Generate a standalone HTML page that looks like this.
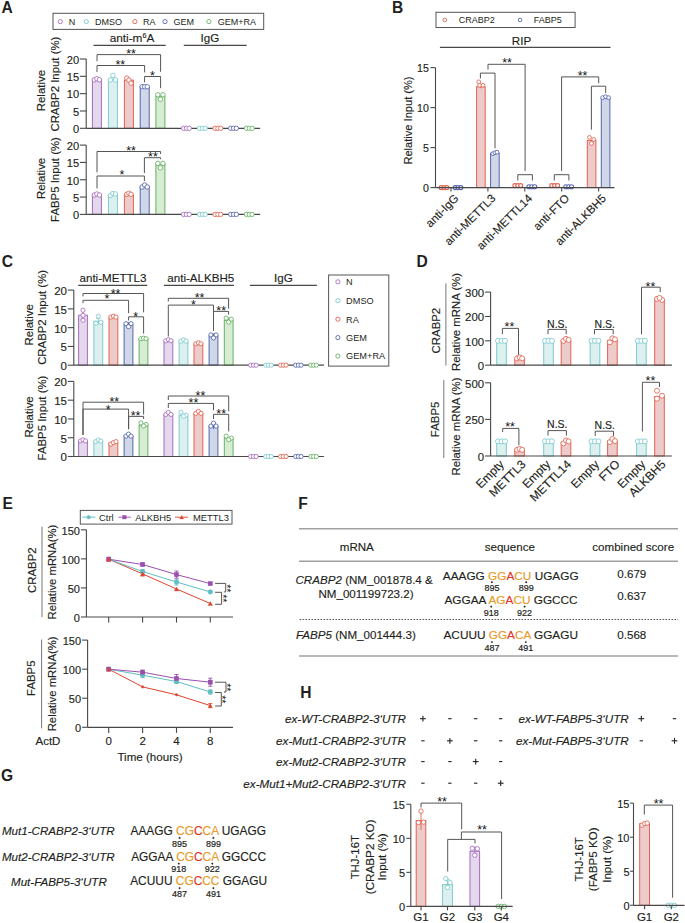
<!DOCTYPE html>
<html><head><meta charset="utf-8"><style>
html,body{margin:0;padding:0;background:#fff;}
svg{display:block;font-family:"Liberation Sans",sans-serif;}
</style></head><body>
<svg width="685" height="923" viewBox="0 0 685 923">
<rect width="685" height="923" fill="#fff"/>
<text x="1.5" y="12.9" font-size="15.6" font-weight="bold" fill="#231f20">A</text>
<rect x="53" y="13.3" width="210.7" height="16.1" stroke="#555" stroke-width="1" fill="none"/>
<circle cx="60.3" cy="21.6" r="2.1" stroke="#a86bbd" stroke-width="0.9" fill="none"/>
<text x="68.7" y="24.8" font-size="9" fill="#231f20">N</text>
<circle cx="86.3" cy="21.6" r="2.1" stroke="#7ccacd" stroke-width="0.9" fill="none"/>
<text x="94.9" y="24.8" font-size="9" fill="#231f20">DMSO</text>
<circle cx="134.9" cy="21.6" r="2.1" stroke="#e1624f" stroke-width="0.9" fill="none"/>
<text x="142.9" y="24.8" font-size="9" fill="#231f20">RA</text>
<circle cx="165" cy="21.6" r="2.1" stroke="#5565ad" stroke-width="0.9" fill="none"/>
<text x="173.5" y="24.8" font-size="9" fill="#231f20">GEM</text>
<circle cx="208.9" cy="21.6" r="2.1" stroke="#66b163" stroke-width="0.9" fill="none"/>
<text x="217.7" y="24.8" font-size="9" fill="#231f20">GEM+RA</text>
<text x="132" y="41.9" font-size="11.8" text-anchor="middle" fill="#231f20" stroke="#231f20" stroke-width="0.15">anti-m<tspan font-size="7.2" dy="-4.2">6</tspan><tspan dy="4.2">A</tspan></text>
<line x1="93.5" y1="45.4" x2="165.7" y2="45.4" stroke="#484848" stroke-width="1.1"/>
<text x="209.9" y="41.9" font-size="11.6" text-anchor="middle" fill="#231f20" stroke="#231f20" stroke-width="0.15">IgG</text>
<line x1="183.8" y1="45.4" x2="246.7" y2="45.4" stroke="#484848" stroke-width="1.1"/>
<line x1="86.2" y1="59" x2="86.2" y2="128.3" stroke="#484848" stroke-width="1.1"/>
<line x1="79.9" y1="128.3" x2="86.2" y2="128.3" stroke="#484848" stroke-width="1.1"/>
<text x="79.2" y="133.1" font-size="11.1" text-anchor="end" fill="#231f20" stroke="#231f20" stroke-width="0.15">0</text>
<line x1="79.9" y1="110.98" x2="86.2" y2="110.98" stroke="#484848" stroke-width="1.1"/>
<text x="79.2" y="115.77" font-size="11.1" text-anchor="end" fill="#231f20" stroke="#231f20" stroke-width="0.15">5</text>
<line x1="79.9" y1="93.65" x2="86.2" y2="93.65" stroke="#484848" stroke-width="1.1"/>
<text x="79.2" y="98.45" font-size="11.1" text-anchor="end" fill="#231f20" stroke="#231f20" stroke-width="0.15">10</text>
<line x1="79.9" y1="76.33" x2="86.2" y2="76.33" stroke="#484848" stroke-width="1.1"/>
<text x="79.2" y="81.12" font-size="11.1" text-anchor="end" fill="#231f20" stroke="#231f20" stroke-width="0.15">15</text>
<line x1="79.9" y1="59" x2="86.2" y2="59" stroke="#484848" stroke-width="1.1"/>
<text x="79.2" y="63.8" font-size="11.1" text-anchor="end" fill="#231f20" stroke="#231f20" stroke-width="0.15">20</text>
<rect x="92.4" y="79.79" width="9" height="48.51" stroke="#a86bbd" stroke-width="1" fill="#e4d9ec"/>
<circle cx="94.35" cy="79.79" r="2.25" stroke="#a86bbd" stroke-width="0.85" fill="#fff"/>
<circle cx="96.9" cy="78.79" r="2.25" stroke="#a86bbd" stroke-width="0.85" fill="#fff"/>
<circle cx="99.45" cy="79.79" r="2.25" stroke="#a86bbd" stroke-width="0.85" fill="#fff"/>
<rect x="108.4" y="79.44" width="9" height="48.86" stroke="#7ccacd" stroke-width="1" fill="#ddf0f0"/>
<circle cx="110.35" cy="79.94" r="2.25" stroke="#7ccacd" stroke-width="0.85" fill="#fff"/>
<circle cx="112.9" cy="75.44" r="2.25" stroke="#7ccacd" stroke-width="0.85" fill="#fff"/>
<circle cx="115.45" cy="79.94" r="2.25" stroke="#7ccacd" stroke-width="0.85" fill="#fff"/>
<rect x="124.4" y="80.14" width="9" height="48.16" stroke="#e1624f" stroke-width="1" fill="#eecbcb"/>
<circle cx="126.78" cy="78.14" r="2.25" stroke="#e1624f" stroke-width="0.85" fill="#fff"/>
<circle cx="128.9" cy="80.14" r="2.25" stroke="#e1624f" stroke-width="0.85" fill="#fff"/>
<circle cx="131.03" cy="83.14" r="2.25" stroke="#e1624f" stroke-width="0.85" fill="#fff"/>
<rect x="140.2" y="86.72" width="9" height="41.58" stroke="#5565ad" stroke-width="1" fill="#cfd7e8"/>
<circle cx="142.15" cy="86.72" r="2.25" stroke="#5565ad" stroke-width="0.85" fill="#fff"/>
<circle cx="144.7" cy="86.72" r="2.25" stroke="#5565ad" stroke-width="0.85" fill="#fff"/>
<circle cx="147.25" cy="86.72" r="2.25" stroke="#5565ad" stroke-width="0.85" fill="#fff"/>
<rect x="155.9" y="96.25" width="9" height="32.05" stroke="#66b163" stroke-width="1" fill="#d6ecd3"/>
<circle cx="157.85" cy="94.75" r="2.25" stroke="#66b163" stroke-width="0.85" fill="#fff"/>
<circle cx="162.95" cy="94.75" r="2.25" stroke="#66b163" stroke-width="0.85" fill="#fff"/>
<circle cx="160.4" cy="99.25" r="2.25" stroke="#66b163" stroke-width="0.85" fill="#fff"/>
<line x1="86.2" y1="128.3" x2="260.1" y2="128.3" stroke="#484848" stroke-width="1.2"/>
<circle cx="183.6" cy="128.3" r="2.2" stroke="#a86bbd" stroke-width="0.85" fill="#fff"/>
<circle cx="186.4" cy="128.3" r="2.2" stroke="#a86bbd" stroke-width="0.85" fill="#fff"/>
<circle cx="189.2" cy="128.3" r="2.2" stroke="#a86bbd" stroke-width="0.85" fill="#fff"/>
<circle cx="199.6" cy="128.3" r="2.2" stroke="#7ccacd" stroke-width="0.85" fill="#fff"/>
<circle cx="202.4" cy="128.3" r="2.2" stroke="#7ccacd" stroke-width="0.85" fill="#fff"/>
<circle cx="205.2" cy="128.3" r="2.2" stroke="#7ccacd" stroke-width="0.85" fill="#fff"/>
<circle cx="215.1" cy="128.3" r="2.2" stroke="#e1624f" stroke-width="0.85" fill="#fff"/>
<circle cx="217.9" cy="128.3" r="2.2" stroke="#e1624f" stroke-width="0.85" fill="#fff"/>
<circle cx="220.7" cy="128.3" r="2.2" stroke="#e1624f" stroke-width="0.85" fill="#fff"/>
<circle cx="230.7" cy="128.3" r="2.2" stroke="#5565ad" stroke-width="0.85" fill="#fff"/>
<circle cx="233.5" cy="128.3" r="2.2" stroke="#5565ad" stroke-width="0.85" fill="#fff"/>
<circle cx="236.3" cy="128.3" r="2.2" stroke="#5565ad" stroke-width="0.85" fill="#fff"/>
<circle cx="246.5" cy="128.3" r="2.2" stroke="#66b163" stroke-width="0.85" fill="#fff"/>
<circle cx="249.3" cy="128.3" r="2.2" stroke="#66b163" stroke-width="0.85" fill="#fff"/>
<circle cx="252.1" cy="128.3" r="2.2" stroke="#66b163" stroke-width="0.85" fill="#fff"/>
<path d="M97 61.2V54.6H160.6V71.8" stroke="#555555" stroke-width="1" fill="none"/>
<text x="131" y="57.95" font-size="12.5" text-anchor="middle" fill="#111">**</text>
<path d="M97 72.1V65.5H144.6V72.4" stroke="#555555" stroke-width="1" fill="none"/>
<text x="120.3" y="69.15" font-size="12.5" text-anchor="middle" fill="#111">**</text>
<path d="M144.6 82.3V76.5H160.6V88.2" stroke="#555555" stroke-width="1" fill="none"/>
<text x="152.4" y="80.35" font-size="12.5" text-anchor="middle" fill="#111">*</text>
<text x="44.51" y="90.6" font-size="11.4" text-anchor="middle" transform="rotate(-90 44.51 90.6)" fill="#231f20" stroke="#231f20" stroke-width="0.15">Relative</text>
<text x="58.61" y="84.1" font-size="11.4" text-anchor="middle" transform="rotate(-90 58.61 84.1)" fill="#231f20" stroke="#231f20" stroke-width="0.15">CRABP2 Input (%)</text>
<line x1="86.2" y1="145.1" x2="86.2" y2="214.4" stroke="#484848" stroke-width="1.1"/>
<line x1="79.9" y1="214.4" x2="86.2" y2="214.4" stroke="#484848" stroke-width="1.1"/>
<text x="79.2" y="219.2" font-size="11.1" text-anchor="end" fill="#231f20" stroke="#231f20" stroke-width="0.15">0</text>
<line x1="79.9" y1="197.08" x2="86.2" y2="197.08" stroke="#484848" stroke-width="1.1"/>
<text x="79.2" y="201.87" font-size="11.1" text-anchor="end" fill="#231f20" stroke="#231f20" stroke-width="0.15">5</text>
<line x1="79.9" y1="179.75" x2="86.2" y2="179.75" stroke="#484848" stroke-width="1.1"/>
<text x="79.2" y="184.55" font-size="11.1" text-anchor="end" fill="#231f20" stroke="#231f20" stroke-width="0.15">10</text>
<line x1="79.9" y1="162.43" x2="86.2" y2="162.43" stroke="#484848" stroke-width="1.1"/>
<text x="79.2" y="167.22" font-size="11.1" text-anchor="end" fill="#231f20" stroke="#231f20" stroke-width="0.15">15</text>
<line x1="79.9" y1="145.1" x2="86.2" y2="145.1" stroke="#484848" stroke-width="1.1"/>
<text x="79.2" y="149.9" font-size="11.1" text-anchor="end" fill="#231f20" stroke="#231f20" stroke-width="0.15">20</text>
<rect x="92.4" y="195" width="9" height="19.4" stroke="#a86bbd" stroke-width="1" fill="#e4d9ec"/>
<circle cx="94.35" cy="195" r="2.25" stroke="#a86bbd" stroke-width="0.85" fill="#fff"/>
<circle cx="96.9" cy="194" r="2.25" stroke="#a86bbd" stroke-width="0.85" fill="#fff"/>
<circle cx="99.45" cy="195" r="2.25" stroke="#a86bbd" stroke-width="0.85" fill="#fff"/>
<rect x="108.4" y="195" width="9" height="19.4" stroke="#7ccacd" stroke-width="1" fill="#ddf0f0"/>
<circle cx="110.35" cy="195.5" r="2.25" stroke="#7ccacd" stroke-width="0.85" fill="#fff"/>
<circle cx="112.9" cy="193.5" r="2.25" stroke="#7ccacd" stroke-width="0.85" fill="#fff"/>
<circle cx="115.45" cy="194" r="2.25" stroke="#7ccacd" stroke-width="0.85" fill="#fff"/>
<rect x="124.4" y="194.3" width="9" height="20.1" stroke="#e1624f" stroke-width="1" fill="#eecbcb"/>
<circle cx="126.78" cy="194.3" r="2.25" stroke="#e1624f" stroke-width="0.85" fill="#fff"/>
<circle cx="128.9" cy="193.3" r="2.25" stroke="#e1624f" stroke-width="0.85" fill="#fff"/>
<circle cx="131.03" cy="194.3" r="2.25" stroke="#e1624f" stroke-width="0.85" fill="#fff"/>
<rect x="140.2" y="187.03" width="9" height="27.37" stroke="#5565ad" stroke-width="1" fill="#cfd7e8"/>
<circle cx="142.15" cy="187.03" r="2.25" stroke="#5565ad" stroke-width="0.85" fill="#fff"/>
<circle cx="144.7" cy="185.03" r="2.25" stroke="#5565ad" stroke-width="0.85" fill="#fff"/>
<circle cx="147.25" cy="187.03" r="2.25" stroke="#5565ad" stroke-width="0.85" fill="#fff"/>
<rect x="155.9" y="164.85" width="9" height="49.55" stroke="#66b163" stroke-width="1" fill="#d6ecd3"/>
<circle cx="157.85" cy="163.35" r="2.25" stroke="#66b163" stroke-width="0.85" fill="#fff"/>
<circle cx="162.95" cy="163.35" r="2.25" stroke="#66b163" stroke-width="0.85" fill="#fff"/>
<circle cx="160.4" cy="167.85" r="2.25" stroke="#66b163" stroke-width="0.85" fill="#fff"/>
<line x1="86.2" y1="214.4" x2="260.1" y2="214.4" stroke="#484848" stroke-width="1.2"/>
<circle cx="183.6" cy="214.4" r="2.2" stroke="#a86bbd" stroke-width="0.85" fill="#fff"/>
<circle cx="186.4" cy="214.4" r="2.2" stroke="#a86bbd" stroke-width="0.85" fill="#fff"/>
<circle cx="189.2" cy="214.4" r="2.2" stroke="#a86bbd" stroke-width="0.85" fill="#fff"/>
<circle cx="199.6" cy="214.4" r="2.2" stroke="#7ccacd" stroke-width="0.85" fill="#fff"/>
<circle cx="202.4" cy="214.4" r="2.2" stroke="#7ccacd" stroke-width="0.85" fill="#fff"/>
<circle cx="205.2" cy="214.4" r="2.2" stroke="#7ccacd" stroke-width="0.85" fill="#fff"/>
<circle cx="215.1" cy="214.4" r="2.2" stroke="#e1624f" stroke-width="0.85" fill="#fff"/>
<circle cx="217.9" cy="214.4" r="2.2" stroke="#e1624f" stroke-width="0.85" fill="#fff"/>
<circle cx="220.7" cy="214.4" r="2.2" stroke="#e1624f" stroke-width="0.85" fill="#fff"/>
<circle cx="230.7" cy="214.4" r="2.2" stroke="#5565ad" stroke-width="0.85" fill="#fff"/>
<circle cx="233.5" cy="214.4" r="2.2" stroke="#5565ad" stroke-width="0.85" fill="#fff"/>
<circle cx="236.3" cy="214.4" r="2.2" stroke="#5565ad" stroke-width="0.85" fill="#fff"/>
<circle cx="246.5" cy="214.4" r="2.2" stroke="#66b163" stroke-width="0.85" fill="#fff"/>
<circle cx="249.3" cy="214.4" r="2.2" stroke="#66b163" stroke-width="0.85" fill="#fff"/>
<circle cx="252.1" cy="214.4" r="2.2" stroke="#66b163" stroke-width="0.85" fill="#fff"/>
<path d="M97 172.3V151.5H160.6V154" stroke="#555555" stroke-width="1" fill="none"/>
<text x="131" y="154.75" font-size="12.5" text-anchor="middle" fill="#111">**</text>
<path d="M144.4 173V157.7H160.6V159.2" stroke="#555555" stroke-width="1" fill="none"/>
<text x="152.9" y="160.95" font-size="12.5" text-anchor="middle" fill="#111">**</text>
<path d="M97 188.4V176H144.4V181" stroke="#555555" stroke-width="1" fill="none"/>
<text x="122" y="178.95" font-size="12.5" text-anchor="middle" fill="#111">*</text>
<text x="44.51" y="178.4" font-size="11.4" text-anchor="middle" transform="rotate(-90 44.51 178.4)" fill="#231f20" stroke="#231f20" stroke-width="0.15">Relative</text>
<text x="58.61" y="179.5" font-size="11.4" text-anchor="middle" transform="rotate(-90 58.61 179.5)" fill="#231f20" stroke="#231f20" stroke-width="0.15">FABP5 Input (%)</text>
<text x="391.9" y="12.6" font-size="15.6" font-weight="bold" fill="#231f20">B</text>
<rect x="436" y="12.3" width="139.1" height="15.2" stroke="#555" stroke-width="1" fill="none"/>
<circle cx="444.8" cy="19.9" r="1.8" stroke="#e1624f" stroke-width="0.9" fill="none"/>
<text x="458.8" y="23.3" font-size="9" fill="#231f20">CRABP2</text>
<circle cx="520.1" cy="19.9" r="1.8" stroke="#5565ad" stroke-width="0.9" fill="none"/>
<text x="533.8" y="23.3" font-size="9" fill="#231f20">FABP5</text>
<text x="521.5" y="44.7" font-size="11.6" text-anchor="middle" fill="#231f20" stroke="#231f20" stroke-width="0.15">RIP</text>
<line x1="439.9" y1="47.4" x2="610.5" y2="47.4" stroke="#484848" stroke-width="1.1"/>
<line x1="435.5" y1="67.6" x2="435.5" y2="187.6" stroke="#484848" stroke-width="1.1"/>
<line x1="430.5" y1="187.6" x2="435.5" y2="187.6" stroke="#484848" stroke-width="1.1"/>
<text x="428.9" y="192.22" font-size="10.6" text-anchor="end" fill="#231f20" stroke="#231f20" stroke-width="0.15">0</text>
<line x1="430.5" y1="147.6" x2="435.5" y2="147.6" stroke="#484848" stroke-width="1.1"/>
<text x="428.9" y="152.22" font-size="10.6" text-anchor="end" fill="#231f20" stroke="#231f20" stroke-width="0.15">5</text>
<line x1="430.5" y1="107.6" x2="435.5" y2="107.6" stroke="#484848" stroke-width="1.1"/>
<text x="428.9" y="112.22" font-size="10.6" text-anchor="end" fill="#231f20" stroke="#231f20" stroke-width="0.15">10</text>
<line x1="430.5" y1="67.6" x2="435.5" y2="67.6" stroke="#484848" stroke-width="1.1"/>
<text x="428.9" y="72.22" font-size="10.6" text-anchor="end" fill="#231f20" stroke="#231f20" stroke-width="0.15">15</text>
<text x="411.82" y="120.5" font-size="11.1" text-anchor="middle" transform="rotate(-90 411.82 120.5)" fill="#231f20" stroke="#231f20" stroke-width="0.15">Relative Input (%)</text>
<circle cx="441.1" cy="187.6" r="2" stroke="#e1624f" stroke-width="1.1" fill="#fff"/>
<circle cx="444" cy="187.6" r="2" stroke="#e1624f" stroke-width="1.1" fill="#fff"/>
<circle cx="446.9" cy="187.6" r="2" stroke="#e1624f" stroke-width="1.1" fill="#fff"/>
<circle cx="455.1" cy="187.6" r="2" stroke="#5565ad" stroke-width="1.1" fill="#fff"/>
<circle cx="458" cy="187.6" r="2" stroke="#5565ad" stroke-width="1.1" fill="#fff"/>
<circle cx="460.9" cy="187.6" r="2" stroke="#5565ad" stroke-width="1.1" fill="#fff"/>
<circle cx="514.9" cy="185.6" r="2" stroke="#e1624f" stroke-width="1.1" fill="#fff"/>
<circle cx="517.8" cy="185.6" r="2" stroke="#e1624f" stroke-width="1.1" fill="#fff"/>
<circle cx="520.7" cy="185.6" r="2" stroke="#e1624f" stroke-width="1.1" fill="#fff"/>
<circle cx="528.9" cy="186.8" r="2" stroke="#5565ad" stroke-width="1.1" fill="#fff"/>
<circle cx="531.8" cy="186.8" r="2" stroke="#5565ad" stroke-width="1.1" fill="#fff"/>
<circle cx="534.7" cy="186.8" r="2" stroke="#5565ad" stroke-width="1.1" fill="#fff"/>
<circle cx="551.8" cy="185.6" r="2" stroke="#e1624f" stroke-width="1.1" fill="#fff"/>
<circle cx="554.7" cy="185.6" r="2" stroke="#e1624f" stroke-width="1.1" fill="#fff"/>
<circle cx="557.6" cy="185.6" r="2" stroke="#e1624f" stroke-width="1.1" fill="#fff"/>
<circle cx="565.8" cy="186.8" r="2" stroke="#5565ad" stroke-width="1.1" fill="#fff"/>
<circle cx="568.7" cy="186.8" r="2" stroke="#5565ad" stroke-width="1.1" fill="#fff"/>
<circle cx="571.6" cy="186.8" r="2" stroke="#5565ad" stroke-width="1.1" fill="#fff"/>
<rect x="476.6" y="86.8" width="8.6" height="100.8" stroke="#e1624f" stroke-width="1" fill="#eecbcb"/>
<line x1="480.9" y1="85.3" x2="480.9" y2="88.3" stroke="#e1624f" stroke-width="0.9"/>
<line x1="478.9" y1="85.3" x2="482.9" y2="85.3" stroke="#e1624f" stroke-width="0.9"/>
<circle cx="478.77" cy="81.8" r="1.9" stroke="#e1624f" stroke-width="0.85" fill="#fff"/>
<circle cx="479.62" cy="85.3" r="1.9" stroke="#e1624f" stroke-width="0.85" fill="#fff"/>
<circle cx="483.02" cy="85.3" r="1.9" stroke="#e1624f" stroke-width="0.85" fill="#fff"/>
<rect x="490.6" y="153.2" width="8.6" height="34.4" stroke="#5565ad" stroke-width="1" fill="#cfd7e8"/>
<circle cx="492.77" cy="153.7" r="1.9" stroke="#5565ad" stroke-width="0.85" fill="#fff"/>
<circle cx="494.9" cy="152.7" r="1.9" stroke="#5565ad" stroke-width="0.85" fill="#fff"/>
<circle cx="497.02" cy="152.2" r="1.9" stroke="#5565ad" stroke-width="0.85" fill="#fff"/>
<rect x="587.3" y="140.4" width="8.6" height="47.2" stroke="#e1624f" stroke-width="1" fill="#eecbcb"/>
<circle cx="589.48" cy="137.4" r="1.9" stroke="#e1624f" stroke-width="0.85" fill="#fff"/>
<circle cx="593.73" cy="139.4" r="1.9" stroke="#e1624f" stroke-width="0.85" fill="#fff"/>
<circle cx="591.6" cy="143.4" r="1.9" stroke="#e1624f" stroke-width="0.85" fill="#fff"/>
<rect x="601.3" y="98.64" width="8.6" height="88.96" stroke="#5565ad" stroke-width="1" fill="#cfd7e8"/>
<circle cx="602.62" cy="97.64" r="1.9" stroke="#5565ad" stroke-width="0.85" fill="#fff"/>
<circle cx="605.6" cy="96.64" r="1.9" stroke="#5565ad" stroke-width="0.85" fill="#fff"/>
<circle cx="608.58" cy="97.64" r="1.9" stroke="#5565ad" stroke-width="0.85" fill="#fff"/>
<line x1="435.5" y1="187.6" x2="614.5" y2="187.6" stroke="#484848" stroke-width="1.2"/>
<line x1="451" y1="187.6" x2="451" y2="191.6" stroke="#484848" stroke-width="1.1"/>
<line x1="487.9" y1="187.6" x2="487.9" y2="191.6" stroke="#484848" stroke-width="1.1"/>
<line x1="524.8" y1="187.6" x2="524.8" y2="191.6" stroke="#484848" stroke-width="1.1"/>
<line x1="561.7" y1="187.6" x2="561.7" y2="191.6" stroke="#484848" stroke-width="1.1"/>
<line x1="598.6" y1="187.6" x2="598.6" y2="191.6" stroke="#484848" stroke-width="1.1"/>
<path d="M480.4 78.4V73.1H495V148.4" stroke="#555555" stroke-width="1" fill="none"/>
<path d="M488 69.6V64.3H525.1V171" stroke="#555555" stroke-width="1" fill="none"/>
<text x="507" y="66.85" font-size="12.5" text-anchor="middle" fill="#111">**</text>
<path d="M517.8 180.5V174.7H532.4V180.5" stroke="#555555" stroke-width="1" fill="none"/>
<path d="M554.3 180.5V174.7H568.9V180.5" stroke="#555555" stroke-width="1" fill="none"/>
<path d="M561.6 171V76.9H598.7V83.3" stroke="#555555" stroke-width="1" fill="none"/>
<text x="582.6" y="79.65" font-size="12.5" text-anchor="middle" fill="#111">**</text>
<path d="M591.4 129.6V86.2H605.7V93" stroke="#555555" stroke-width="1" fill="none"/>
<text x="459.3" y="199" font-size="11.5" text-anchor="end" transform="rotate(-45 459.3 199)" fill="#231f20" stroke="#231f20" stroke-width="0.15">anti-IgG</text>
<text x="496.2" y="199" font-size="11.5" text-anchor="end" transform="rotate(-45 496.2 199)" fill="#231f20" stroke="#231f20" stroke-width="0.15">anti-METTL3</text>
<text x="533.1" y="199" font-size="11.5" text-anchor="end" transform="rotate(-45 533.1 199)" fill="#231f20" stroke="#231f20" stroke-width="0.15">anti-METTL14</text>
<text x="570" y="199" font-size="11.5" text-anchor="end" transform="rotate(-45 570 199)" fill="#231f20" stroke="#231f20" stroke-width="0.15">anti-FTO</text>
<text x="606.9" y="199" font-size="11.5" text-anchor="end" transform="rotate(-45 606.9 199)" fill="#231f20" stroke="#231f20" stroke-width="0.15">anti-ALKBH5</text>
<text x="1.75" y="267.1" font-size="15.6" font-weight="bold" fill="#231f20">C</text>
<text x="113" y="281.5" font-size="11.6" text-anchor="middle" fill="#231f20" stroke="#231f20" stroke-width="0.15">anti-METTL3</text>
<line x1="78.2" y1="285.4" x2="147.3" y2="285.4" stroke="#484848" stroke-width="1.1"/>
<text x="200.8" y="281.5" font-size="11.6" text-anchor="middle" fill="#231f20" stroke="#231f20" stroke-width="0.15">anti-ALKBH5</text>
<line x1="163.9" y1="285.4" x2="233.9" y2="285.4" stroke="#484848" stroke-width="1.1"/>
<text x="283.4" y="281.5" font-size="11.6" text-anchor="middle" fill="#231f20" stroke="#231f20" stroke-width="0.15">IgG</text>
<line x1="249.9" y1="285.4" x2="316.9" y2="285.4" stroke="#484848" stroke-width="1.1"/>
<rect x="328.6" y="275" width="60.2" height="91.1" stroke="#555" stroke-width="1" fill="none"/>
<circle cx="337.9" cy="281.8" r="2.1" stroke="#a86bbd" stroke-width="0.9" fill="none"/>
<text x="346.1" y="285.1" font-size="9.2" fill="#231f20">N</text>
<circle cx="337.9" cy="300.7" r="2.1" stroke="#7ccacd" stroke-width="0.9" fill="none"/>
<text x="346.1" y="304" font-size="9.2" fill="#231f20">DMSO</text>
<circle cx="337.9" cy="319.2" r="2.1" stroke="#e1624f" stroke-width="0.9" fill="none"/>
<text x="346.1" y="322.5" font-size="9.2" fill="#231f20">RA</text>
<circle cx="337.9" cy="337.6" r="2.1" stroke="#5565ad" stroke-width="0.9" fill="none"/>
<text x="346.1" y="340.9" font-size="9.2" fill="#231f20">GEM</text>
<circle cx="337.9" cy="356.1" r="2.1" stroke="#66b163" stroke-width="0.9" fill="none"/>
<text x="346.1" y="359.4" font-size="9.2" fill="#231f20">GEM+RA</text>
<line x1="73.8" y1="290.1" x2="73.8" y2="365.2" stroke="#484848" stroke-width="1.1"/>
<line x1="67.8" y1="365.2" x2="73.8" y2="365.2" stroke="#484848" stroke-width="1.1"/>
<text x="67" y="370.14" font-size="11.5" text-anchor="end" fill="#231f20" stroke="#231f20" stroke-width="0.15">0</text>
<line x1="67.8" y1="346.43" x2="73.8" y2="346.43" stroke="#484848" stroke-width="1.1"/>
<text x="67" y="351.37" font-size="11.5" text-anchor="end" fill="#231f20" stroke="#231f20" stroke-width="0.15">5</text>
<line x1="67.8" y1="327.65" x2="73.8" y2="327.65" stroke="#484848" stroke-width="1.1"/>
<text x="67" y="332.59" font-size="11.5" text-anchor="end" fill="#231f20" stroke="#231f20" stroke-width="0.15">10</text>
<line x1="67.8" y1="308.88" x2="73.8" y2="308.88" stroke="#484848" stroke-width="1.1"/>
<text x="67" y="313.81" font-size="11.5" text-anchor="end" fill="#231f20" stroke="#231f20" stroke-width="0.15">15</text>
<line x1="67.8" y1="290.1" x2="73.8" y2="290.1" stroke="#484848" stroke-width="1.1"/>
<text x="67" y="295.04" font-size="11.5" text-anchor="end" fill="#231f20" stroke="#231f20" stroke-width="0.15">20</text>
<rect x="78.6" y="315.26" width="8.8" height="49.94" stroke="#a86bbd" stroke-width="1" fill="#e4d9ec"/>
<line x1="83" y1="310.26" x2="83" y2="320.26" stroke="#a86bbd" stroke-width="0.9"/>
<line x1="81" y1="310.26" x2="85" y2="310.26" stroke="#a86bbd" stroke-width="0.9"/>
<circle cx="83" cy="320.26" r="2.1" stroke="#a86bbd" stroke-width="0.85" fill="#fff"/>
<circle cx="83" cy="310.26" r="2.1" stroke="#a86bbd" stroke-width="0.85" fill="#fff"/>
<circle cx="83" cy="315.26" r="2.1" stroke="#a86bbd" stroke-width="0.85" fill="#fff"/>
<rect x="164" y="340.79" width="8.8" height="24.41" stroke="#a86bbd" stroke-width="1" fill="#e4d9ec"/>
<circle cx="165.85" cy="340.79" r="2.1" stroke="#a86bbd" stroke-width="0.85" fill="#fff"/>
<circle cx="168.4" cy="339.79" r="2.1" stroke="#a86bbd" stroke-width="0.85" fill="#fff"/>
<circle cx="170.95" cy="340.79" r="2.1" stroke="#a86bbd" stroke-width="0.85" fill="#fff"/>
<rect x="93.9" y="321.27" width="8.8" height="43.93" stroke="#7ccacd" stroke-width="1" fill="#ddf0f0"/>
<line x1="98.3" y1="318.27" x2="98.3" y2="324.27" stroke="#7ccacd" stroke-width="0.9"/>
<line x1="96.3" y1="318.27" x2="100.3" y2="318.27" stroke="#7ccacd" stroke-width="0.9"/>
<circle cx="98.3" cy="316.27" r="2.1" stroke="#7ccacd" stroke-width="0.85" fill="#fff"/>
<circle cx="95.75" cy="323.27" r="2.1" stroke="#7ccacd" stroke-width="0.85" fill="#fff"/>
<circle cx="100.85" cy="322.27" r="2.1" stroke="#7ccacd" stroke-width="0.85" fill="#fff"/>
<rect x="179.1" y="341.17" width="8.8" height="24.03" stroke="#7ccacd" stroke-width="1" fill="#ddf0f0"/>
<circle cx="180.95" cy="341.17" r="2.1" stroke="#7ccacd" stroke-width="0.85" fill="#fff"/>
<circle cx="183.5" cy="339.67" r="2.1" stroke="#7ccacd" stroke-width="0.85" fill="#fff"/>
<circle cx="186.05" cy="341.17" r="2.1" stroke="#7ccacd" stroke-width="0.85" fill="#fff"/>
<rect x="109" y="317.14" width="8.8" height="48.06" stroke="#e1624f" stroke-width="1" fill="#eecbcb"/>
<circle cx="110.85" cy="317.14" r="2.1" stroke="#e1624f" stroke-width="0.85" fill="#fff"/>
<circle cx="113.4" cy="316.14" r="2.1" stroke="#e1624f" stroke-width="0.85" fill="#fff"/>
<circle cx="115.95" cy="317.14" r="2.1" stroke="#e1624f" stroke-width="0.85" fill="#fff"/>
<rect x="194" y="343.8" width="8.8" height="21.4" stroke="#e1624f" stroke-width="1" fill="#eecbcb"/>
<circle cx="195.85" cy="343.8" r="2.1" stroke="#e1624f" stroke-width="0.85" fill="#fff"/>
<circle cx="198.4" cy="342.8" r="2.1" stroke="#e1624f" stroke-width="0.85" fill="#fff"/>
<circle cx="200.95" cy="343.8" r="2.1" stroke="#e1624f" stroke-width="0.85" fill="#fff"/>
<rect x="124.1" y="324.65" width="8.8" height="40.55" stroke="#5565ad" stroke-width="1" fill="#cfd7e8"/>
<line x1="128.5" y1="322.65" x2="128.5" y2="326.65" stroke="#5565ad" stroke-width="0.9"/>
<line x1="126.5" y1="322.65" x2="130.5" y2="322.65" stroke="#5565ad" stroke-width="0.9"/>
<circle cx="125.95" cy="323.65" r="2.1" stroke="#5565ad" stroke-width="0.85" fill="#fff"/>
<circle cx="131.05" cy="323.65" r="2.1" stroke="#5565ad" stroke-width="0.85" fill="#fff"/>
<circle cx="128.5" cy="326.65" r="2.1" stroke="#5565ad" stroke-width="0.85" fill="#fff"/>
<rect x="209.1" y="335.91" width="8.8" height="29.29" stroke="#5565ad" stroke-width="1" fill="#cfd7e8"/>
<line x1="213.5" y1="333.91" x2="213.5" y2="337.91" stroke="#5565ad" stroke-width="0.9"/>
<line x1="211.5" y1="333.91" x2="215.5" y2="333.91" stroke="#5565ad" stroke-width="0.9"/>
<circle cx="210.95" cy="334.91" r="2.1" stroke="#5565ad" stroke-width="0.85" fill="#fff"/>
<circle cx="216.05" cy="334.91" r="2.1" stroke="#5565ad" stroke-width="0.85" fill="#fff"/>
<circle cx="213.5" cy="337.91" r="2.1" stroke="#5565ad" stroke-width="0.85" fill="#fff"/>
<rect x="139.1" y="338.69" width="8.8" height="26.51" stroke="#66b163" stroke-width="1" fill="#d6ecd3"/>
<circle cx="140.95" cy="338.69" r="2.1" stroke="#66b163" stroke-width="0.85" fill="#fff"/>
<circle cx="143.5" cy="338.19" r="2.1" stroke="#66b163" stroke-width="0.85" fill="#fff"/>
<circle cx="146.05" cy="338.69" r="2.1" stroke="#66b163" stroke-width="0.85" fill="#fff"/>
<rect x="224.3" y="320.14" width="8.8" height="45.06" stroke="#66b163" stroke-width="1" fill="#d6ecd3"/>
<line x1="228.7" y1="318.14" x2="228.7" y2="322.14" stroke="#66b163" stroke-width="0.9"/>
<line x1="226.7" y1="318.14" x2="230.7" y2="318.14" stroke="#66b163" stroke-width="0.9"/>
<circle cx="226.15" cy="318.14" r="2.1" stroke="#66b163" stroke-width="0.85" fill="#fff"/>
<circle cx="231.25" cy="319.14" r="2.1" stroke="#66b163" stroke-width="0.85" fill="#fff"/>
<circle cx="228.7" cy="322.14" r="2.1" stroke="#66b163" stroke-width="0.85" fill="#fff"/>
<line x1="73.8" y1="365.2" x2="323.9" y2="365.2" stroke="#484848" stroke-width="1.2"/>
<circle cx="250.7" cy="365.2" r="2.1" stroke="#a86bbd" stroke-width="0.85" fill="#fff"/>
<circle cx="253.4" cy="365.2" r="2.1" stroke="#a86bbd" stroke-width="0.85" fill="#fff"/>
<circle cx="256.1" cy="365.2" r="2.1" stroke="#a86bbd" stroke-width="0.85" fill="#fff"/>
<circle cx="265.8" cy="365.2" r="2.1" stroke="#7ccacd" stroke-width="0.85" fill="#fff"/>
<circle cx="268.5" cy="365.2" r="2.1" stroke="#7ccacd" stroke-width="0.85" fill="#fff"/>
<circle cx="271.2" cy="365.2" r="2.1" stroke="#7ccacd" stroke-width="0.85" fill="#fff"/>
<circle cx="280.6" cy="365.2" r="2.1" stroke="#e1624f" stroke-width="0.85" fill="#fff"/>
<circle cx="283.3" cy="365.2" r="2.1" stroke="#e1624f" stroke-width="0.85" fill="#fff"/>
<circle cx="286" cy="365.2" r="2.1" stroke="#e1624f" stroke-width="0.85" fill="#fff"/>
<circle cx="295.7" cy="365.2" r="2.1" stroke="#5565ad" stroke-width="0.85" fill="#fff"/>
<circle cx="298.4" cy="365.2" r="2.1" stroke="#5565ad" stroke-width="0.85" fill="#fff"/>
<circle cx="301.1" cy="365.2" r="2.1" stroke="#5565ad" stroke-width="0.85" fill="#fff"/>
<circle cx="310.9" cy="365.2" r="2.1" stroke="#66b163" stroke-width="0.85" fill="#fff"/>
<circle cx="313.6" cy="365.2" r="2.1" stroke="#66b163" stroke-width="0.85" fill="#fff"/>
<circle cx="316.3" cy="365.2" r="2.1" stroke="#66b163" stroke-width="0.85" fill="#fff"/>
<path d="M83 296.4V293.5H143.6V312.4" stroke="#555555" stroke-width="1" fill="none"/>
<text x="115.5" y="297.55" font-size="12.5" text-anchor="middle" fill="#111">**</text>
<path d="M83 303.2V300.3H128.6V313.2" stroke="#555555" stroke-width="1" fill="none"/>
<text x="107" y="303.35" font-size="12.5" text-anchor="middle" fill="#111">*</text>
<path d="M128.6 320.5V316.8H143.6V333.6" stroke="#555555" stroke-width="1" fill="none"/>
<text x="135.6" y="320.85" font-size="12.5" text-anchor="middle" fill="#111">*</text>
<path d="M168.3 301.5V298.3H228.6V308.8" stroke="#555555" stroke-width="1" fill="none"/>
<text x="199.6" y="302.25" font-size="12.5" text-anchor="middle" fill="#111">**</text>
<path d="M168.3 336.5V305.1H213.5V330.7" stroke="#555555" stroke-width="1" fill="none"/>
<text x="193.4" y="309.05" font-size="12.5" text-anchor="middle" fill="#111">*</text>
<path d="M213.5 330.7V311.4H228.6V314.6" stroke="#555555" stroke-width="1" fill="none"/>
<text x="221.2" y="315.35" font-size="12.5" text-anchor="middle" fill="#111">**</text>
<text x="32.91" y="324.8" font-size="11.4" text-anchor="middle" transform="rotate(-90 32.91 324.8)" fill="#231f20" stroke="#231f20" stroke-width="0.15">Relative</text>
<text x="46.41" y="317.4" font-size="11.4" text-anchor="middle" transform="rotate(-90 46.41 317.4)" fill="#231f20" stroke="#231f20" stroke-width="0.15">CRABP2 Input (%)</text>
<line x1="73.8" y1="381.4" x2="73.8" y2="456.5" stroke="#484848" stroke-width="1.1"/>
<line x1="67.8" y1="456.5" x2="73.8" y2="456.5" stroke="#484848" stroke-width="1.1"/>
<text x="67" y="461.44" font-size="11.5" text-anchor="end" fill="#231f20" stroke="#231f20" stroke-width="0.15">0</text>
<line x1="67.8" y1="437.73" x2="73.8" y2="437.73" stroke="#484848" stroke-width="1.1"/>
<text x="67" y="442.67" font-size="11.5" text-anchor="end" fill="#231f20" stroke="#231f20" stroke-width="0.15">5</text>
<line x1="67.8" y1="418.95" x2="73.8" y2="418.95" stroke="#484848" stroke-width="1.1"/>
<text x="67" y="423.89" font-size="11.5" text-anchor="end" fill="#231f20" stroke="#231f20" stroke-width="0.15">10</text>
<line x1="67.8" y1="400.18" x2="73.8" y2="400.18" stroke="#484848" stroke-width="1.1"/>
<text x="67" y="405.12" font-size="11.5" text-anchor="end" fill="#231f20" stroke="#231f20" stroke-width="0.15">15</text>
<line x1="67.8" y1="381.4" x2="73.8" y2="381.4" stroke="#484848" stroke-width="1.1"/>
<text x="67" y="386.34" font-size="11.5" text-anchor="end" fill="#231f20" stroke="#231f20" stroke-width="0.15">20</text>
<rect x="78.6" y="440.92" width="8.8" height="15.58" stroke="#a86bbd" stroke-width="1" fill="#e4d9ec"/>
<circle cx="80.45" cy="440.92" r="2.1" stroke="#a86bbd" stroke-width="0.85" fill="#fff"/>
<circle cx="83" cy="439.92" r="2.1" stroke="#a86bbd" stroke-width="0.85" fill="#fff"/>
<circle cx="85.55" cy="440.92" r="2.1" stroke="#a86bbd" stroke-width="0.85" fill="#fff"/>
<rect x="164" y="414.44" width="8.8" height="42.06" stroke="#a86bbd" stroke-width="1" fill="#e4d9ec"/>
<circle cx="165.85" cy="414.44" r="2.1" stroke="#a86bbd" stroke-width="0.85" fill="#fff"/>
<circle cx="168.4" cy="412.44" r="2.1" stroke="#a86bbd" stroke-width="0.85" fill="#fff"/>
<circle cx="170.95" cy="414.44" r="2.1" stroke="#a86bbd" stroke-width="0.85" fill="#fff"/>
<rect x="93.9" y="441.59" width="8.8" height="14.91" stroke="#7ccacd" stroke-width="1" fill="#ddf0f0"/>
<circle cx="95.75" cy="441.59" r="2.1" stroke="#7ccacd" stroke-width="0.85" fill="#fff"/>
<circle cx="98.3" cy="440.09" r="2.1" stroke="#7ccacd" stroke-width="0.85" fill="#fff"/>
<circle cx="100.85" cy="441.09" r="2.1" stroke="#7ccacd" stroke-width="0.85" fill="#fff"/>
<rect x="179.1" y="415.19" width="8.8" height="41.31" stroke="#7ccacd" stroke-width="1" fill="#ddf0f0"/>
<circle cx="180.95" cy="412.19" r="2.1" stroke="#7ccacd" stroke-width="0.85" fill="#fff"/>
<circle cx="186.05" cy="415.19" r="2.1" stroke="#7ccacd" stroke-width="0.85" fill="#fff"/>
<circle cx="183.5" cy="416.19" r="2.1" stroke="#7ccacd" stroke-width="0.85" fill="#fff"/>
<rect x="109" y="443.09" width="8.8" height="13.41" stroke="#e1624f" stroke-width="1" fill="#eecbcb"/>
<circle cx="110.85" cy="444.09" r="2.1" stroke="#e1624f" stroke-width="0.85" fill="#fff"/>
<circle cx="113.4" cy="442.59" r="2.1" stroke="#e1624f" stroke-width="0.85" fill="#fff"/>
<circle cx="115.95" cy="441.59" r="2.1" stroke="#e1624f" stroke-width="0.85" fill="#fff"/>
<rect x="194" y="413.32" width="8.8" height="43.18" stroke="#e1624f" stroke-width="1" fill="#eecbcb"/>
<circle cx="195.85" cy="413.32" r="2.1" stroke="#e1624f" stroke-width="0.85" fill="#fff"/>
<circle cx="198.4" cy="411.32" r="2.1" stroke="#e1624f" stroke-width="0.85" fill="#fff"/>
<circle cx="200.95" cy="413.32" r="2.1" stroke="#e1624f" stroke-width="0.85" fill="#fff"/>
<rect x="124.1" y="436.11" width="8.8" height="20.39" stroke="#5565ad" stroke-width="1" fill="#cfd7e8"/>
<circle cx="125.95" cy="436.11" r="2.1" stroke="#5565ad" stroke-width="0.85" fill="#fff"/>
<circle cx="128.5" cy="434.11" r="2.1" stroke="#5565ad" stroke-width="0.85" fill="#fff"/>
<circle cx="131.05" cy="436.11" r="2.1" stroke="#5565ad" stroke-width="0.85" fill="#fff"/>
<rect x="209.1" y="426.08" width="8.8" height="30.42" stroke="#5565ad" stroke-width="1" fill="#cfd7e8"/>
<line x1="213.5" y1="423.08" x2="213.5" y2="429.08" stroke="#5565ad" stroke-width="0.9"/>
<line x1="211.5" y1="423.08" x2="215.5" y2="423.08" stroke="#5565ad" stroke-width="0.9"/>
<circle cx="210.95" cy="426.08" r="2.1" stroke="#5565ad" stroke-width="0.85" fill="#fff"/>
<circle cx="213.5" cy="423.08" r="2.1" stroke="#5565ad" stroke-width="0.85" fill="#fff"/>
<circle cx="216.05" cy="426.08" r="2.1" stroke="#5565ad" stroke-width="0.85" fill="#fff"/>
<rect x="139.1" y="424.96" width="8.8" height="31.54" stroke="#66b163" stroke-width="1" fill="#d6ecd3"/>
<circle cx="140.95" cy="422.96" r="2.1" stroke="#66b163" stroke-width="0.85" fill="#fff"/>
<circle cx="146.05" cy="424.46" r="2.1" stroke="#66b163" stroke-width="0.85" fill="#fff"/>
<circle cx="143.5" cy="425.96" r="2.1" stroke="#66b163" stroke-width="0.85" fill="#fff"/>
<rect x="224.3" y="438.1" width="8.8" height="18.4" stroke="#66b163" stroke-width="1" fill="#d6ecd3"/>
<circle cx="226.15" cy="436.1" r="2.1" stroke="#66b163" stroke-width="0.85" fill="#fff"/>
<circle cx="231.25" cy="438.1" r="2.1" stroke="#66b163" stroke-width="0.85" fill="#fff"/>
<circle cx="228.7" cy="439.6" r="2.1" stroke="#66b163" stroke-width="0.85" fill="#fff"/>
<line x1="73.8" y1="456.5" x2="323.9" y2="456.5" stroke="#484848" stroke-width="1.2"/>
<circle cx="250.7" cy="456.5" r="2.1" stroke="#a86bbd" stroke-width="0.85" fill="#fff"/>
<circle cx="253.4" cy="456.5" r="2.1" stroke="#a86bbd" stroke-width="0.85" fill="#fff"/>
<circle cx="256.1" cy="456.5" r="2.1" stroke="#a86bbd" stroke-width="0.85" fill="#fff"/>
<circle cx="265.8" cy="456.5" r="2.1" stroke="#7ccacd" stroke-width="0.85" fill="#fff"/>
<circle cx="268.5" cy="456.5" r="2.1" stroke="#7ccacd" stroke-width="0.85" fill="#fff"/>
<circle cx="271.2" cy="456.5" r="2.1" stroke="#7ccacd" stroke-width="0.85" fill="#fff"/>
<circle cx="280.6" cy="456.5" r="2.1" stroke="#e1624f" stroke-width="0.85" fill="#fff"/>
<circle cx="283.3" cy="456.5" r="2.1" stroke="#e1624f" stroke-width="0.85" fill="#fff"/>
<circle cx="286" cy="456.5" r="2.1" stroke="#e1624f" stroke-width="0.85" fill="#fff"/>
<circle cx="295.7" cy="456.5" r="2.1" stroke="#5565ad" stroke-width="0.85" fill="#fff"/>
<circle cx="298.4" cy="456.5" r="2.1" stroke="#5565ad" stroke-width="0.85" fill="#fff"/>
<circle cx="301.1" cy="456.5" r="2.1" stroke="#5565ad" stroke-width="0.85" fill="#fff"/>
<circle cx="310.9" cy="456.5" r="2.1" stroke="#66b163" stroke-width="0.85" fill="#fff"/>
<circle cx="313.6" cy="456.5" r="2.1" stroke="#66b163" stroke-width="0.85" fill="#fff"/>
<circle cx="316.3" cy="456.5" r="2.1" stroke="#66b163" stroke-width="0.85" fill="#fff"/>
<path d="M83 435V402.2H143.6V414.6" stroke="#555555" stroke-width="1" fill="none"/>
<text x="114.3" y="405.85" font-size="12.5" text-anchor="middle" fill="#111">**</text>
<path d="M83 435V409.1H128.6V429.2" stroke="#555555" stroke-width="1" fill="none"/>
<text x="108.2" y="413.55" font-size="12.5" text-anchor="middle" fill="#111">*</text>
<path d="M128.6 429.2V416.4H143.6V419" stroke="#555555" stroke-width="1" fill="none"/>
<text x="135.6" y="419.75" font-size="12.5" text-anchor="middle" fill="#111">**</text>
<path d="M168.3 400V396H228.7V411.4" stroke="#555555" stroke-width="1" fill="none"/>
<text x="200.4" y="399.55" font-size="12.5" text-anchor="middle" fill="#111">**</text>
<path d="M168.3 408V403.4H213.5V410.3" stroke="#555555" stroke-width="1" fill="none"/>
<text x="193.4" y="407.35" font-size="12.5" text-anchor="middle" fill="#111">**</text>
<path d="M213.5 419V414.3H228.7V431.4" stroke="#555555" stroke-width="1" fill="none"/>
<text x="221.2" y="417.95" font-size="12.5" text-anchor="middle" fill="#111">**</text>
<text x="32.91" y="416.9" font-size="11.4" text-anchor="middle" transform="rotate(-90 32.91 416.9)" fill="#231f20" stroke="#231f20" stroke-width="0.15">Relative</text>
<text x="46.41" y="418" font-size="11.4" text-anchor="middle" transform="rotate(-90 46.41 418)" fill="#231f20" stroke="#231f20" stroke-width="0.15">FABP5 Input (%)</text>
<text x="416.6" y="266.6" font-size="15.6" font-weight="bold" fill="#231f20">D</text>
<line x1="490.6" y1="292.09" x2="490.6" y2="365.2" stroke="#484848" stroke-width="1.1"/>
<line x1="485.1" y1="365.2" x2="490.6" y2="365.2" stroke="#484848" stroke-width="1.1"/>
<text x="484.1" y="370.1" font-size="11.4" text-anchor="end" fill="#231f20" stroke="#231f20" stroke-width="0.15">0</text>
<line x1="485.1" y1="340.83" x2="490.6" y2="340.83" stroke="#484848" stroke-width="1.1"/>
<text x="484.1" y="345.73" font-size="11.4" text-anchor="end" fill="#231f20" stroke="#231f20" stroke-width="0.15">100</text>
<line x1="485.1" y1="316.46" x2="490.6" y2="316.46" stroke="#484848" stroke-width="1.1"/>
<text x="484.1" y="321.36" font-size="11.4" text-anchor="end" fill="#231f20" stroke="#231f20" stroke-width="0.15">200</text>
<line x1="485.1" y1="292.09" x2="490.6" y2="292.09" stroke="#484848" stroke-width="1.1"/>
<text x="484.1" y="296.99" font-size="11.4" text-anchor="end" fill="#231f20" stroke="#231f20" stroke-width="0.15">300</text>
<rect x="496.7" y="340.83" width="9.6" height="24.37" stroke="#7ccacd" stroke-width="1" fill="#ddf0f0"/>
<circle cx="498.01" cy="340.83" r="2.5" stroke="#7ccacd" stroke-width="0.85" fill="#fff"/>
<circle cx="501.5" cy="340.83" r="2.5" stroke="#7ccacd" stroke-width="0.85" fill="#fff"/>
<circle cx="504.99" cy="340.83" r="2.5" stroke="#7ccacd" stroke-width="0.85" fill="#fff"/>
<rect x="514.8" y="358.38" width="9.6" height="6.82" stroke="#e1624f" stroke-width="1" fill="#eecbcb"/>
<circle cx="517.05" cy="358.38" r="2.5" stroke="#e1624f" stroke-width="0.85" fill="#fff"/>
<circle cx="519.6" cy="357.38" r="2.5" stroke="#e1624f" stroke-width="0.85" fill="#fff"/>
<circle cx="522.15" cy="358.38" r="2.5" stroke="#e1624f" stroke-width="0.85" fill="#fff"/>
<rect x="543.7" y="340.83" width="9.6" height="24.37" stroke="#7ccacd" stroke-width="1" fill="#ddf0f0"/>
<circle cx="545.01" cy="340.83" r="2.5" stroke="#7ccacd" stroke-width="0.85" fill="#fff"/>
<circle cx="548.5" cy="340.83" r="2.5" stroke="#7ccacd" stroke-width="0.85" fill="#fff"/>
<circle cx="551.99" cy="340.83" r="2.5" stroke="#7ccacd" stroke-width="0.85" fill="#fff"/>
<rect x="561.2" y="340.83" width="9.6" height="24.37" stroke="#e1624f" stroke-width="1" fill="#eecbcb"/>
<circle cx="563.45" cy="340.83" r="2.5" stroke="#e1624f" stroke-width="0.85" fill="#fff"/>
<circle cx="566" cy="338.83" r="2.5" stroke="#e1624f" stroke-width="0.85" fill="#fff"/>
<circle cx="568.55" cy="339.83" r="2.5" stroke="#e1624f" stroke-width="0.85" fill="#fff"/>
<rect x="590.2" y="340.83" width="9.6" height="24.37" stroke="#7ccacd" stroke-width="1" fill="#ddf0f0"/>
<circle cx="591.51" cy="340.83" r="2.5" stroke="#7ccacd" stroke-width="0.85" fill="#fff"/>
<circle cx="595" cy="340.83" r="2.5" stroke="#7ccacd" stroke-width="0.85" fill="#fff"/>
<circle cx="598.49" cy="340.83" r="2.5" stroke="#7ccacd" stroke-width="0.85" fill="#fff"/>
<rect x="607.6" y="340.34" width="9.6" height="24.86" stroke="#e1624f" stroke-width="1" fill="#eecbcb"/>
<circle cx="609.85" cy="342.34" r="2.5" stroke="#e1624f" stroke-width="0.85" fill="#fff"/>
<circle cx="612.4" cy="338.34" r="2.5" stroke="#e1624f" stroke-width="0.85" fill="#fff"/>
<circle cx="614.95" cy="339.34" r="2.5" stroke="#e1624f" stroke-width="0.85" fill="#fff"/>
<rect x="636.6" y="340.83" width="9.6" height="24.37" stroke="#7ccacd" stroke-width="1" fill="#ddf0f0"/>
<circle cx="637.91" cy="340.83" r="2.5" stroke="#7ccacd" stroke-width="0.85" fill="#fff"/>
<circle cx="641.4" cy="340.83" r="2.5" stroke="#7ccacd" stroke-width="0.85" fill="#fff"/>
<circle cx="644.88" cy="340.83" r="2.5" stroke="#7ccacd" stroke-width="0.85" fill="#fff"/>
<rect x="654.7" y="299.89" width="9.6" height="65.31" stroke="#e1624f" stroke-width="1" fill="#eecbcb"/>
<circle cx="656.95" cy="298.89" r="2.5" stroke="#e1624f" stroke-width="0.85" fill="#fff"/>
<circle cx="662.05" cy="299.89" r="2.5" stroke="#e1624f" stroke-width="0.85" fill="#fff"/>
<circle cx="659.5" cy="297.89" r="2.5" stroke="#e1624f" stroke-width="0.85" fill="#fff"/>
<line x1="490.6" y1="365.2" x2="671.9" y2="365.2" stroke="#484848" stroke-width="1.2"/>
<path d="M502.4 334.2V328.4H518.5V354.7" stroke="#555555" stroke-width="1" fill="none"/>
<text x="509.4" y="331.25" font-size="12.5" text-anchor="middle" fill="#111">**</text>
<path d="M548 334.2V329.4H566.2V334.2" stroke="#555555" stroke-width="1" fill="none"/>
<text x="557.3" y="327.7" font-size="10.5" text-anchor="middle" fill="#231f20" stroke="#231f20" stroke-width="0.15">N.S.</text>
<path d="M594.5 334.3V329.5H613.2V334.3" stroke="#555555" stroke-width="1" fill="none"/>
<text x="604.8" y="327.7" font-size="10.5" text-anchor="middle" fill="#231f20" stroke="#231f20" stroke-width="0.15">N.S.</text>
<path d="M641.5 334.3V287.2H660.2V292" stroke="#555555" stroke-width="1" fill="none"/>
<text x="650.4" y="290.95" font-size="12.5" text-anchor="middle" fill="#111">**</text>
<text x="440.11" y="330.6" font-size="11.4" text-anchor="middle" transform="rotate(-90 440.11 330.6)" fill="#231f20" stroke="#231f20" stroke-width="0.15">CRABP2</text>
<line x1="445.9" y1="283.3" x2="445.9" y2="365.6" stroke="#777" stroke-width="1"/>
<text x="460.31" y="321.9" font-size="11.4" text-anchor="middle" transform="rotate(-90 460.31 321.9)" fill="#231f20" stroke="#231f20" stroke-width="0.15">Relative mRNA (%)</text>
<line x1="490.6" y1="382.8" x2="490.6" y2="456" stroke="#484848" stroke-width="1.1"/>
<line x1="485.1" y1="456" x2="490.6" y2="456" stroke="#484848" stroke-width="1.1"/>
<text x="484.1" y="460.9" font-size="11.4" text-anchor="end" fill="#231f20" stroke="#231f20" stroke-width="0.15">0</text>
<line x1="485.1" y1="419.4" x2="490.6" y2="419.4" stroke="#484848" stroke-width="1.1"/>
<text x="484.1" y="424.3" font-size="11.4" text-anchor="end" fill="#231f20" stroke="#231f20" stroke-width="0.15">250</text>
<line x1="485.1" y1="382.8" x2="490.6" y2="382.8" stroke="#484848" stroke-width="1.1"/>
<text x="484.1" y="387.7" font-size="11.4" text-anchor="end" fill="#231f20" stroke="#231f20" stroke-width="0.15">500</text>
<rect x="496.7" y="441.36" width="9.6" height="14.64" stroke="#7ccacd" stroke-width="1" fill="#ddf0f0"/>
<circle cx="498.01" cy="441.36" r="2.5" stroke="#7ccacd" stroke-width="0.85" fill="#fff"/>
<circle cx="501.5" cy="441.36" r="2.5" stroke="#7ccacd" stroke-width="0.85" fill="#fff"/>
<circle cx="504.99" cy="441.36" r="2.5" stroke="#7ccacd" stroke-width="0.85" fill="#fff"/>
<rect x="514.8" y="449.85" width="9.6" height="6.15" stroke="#e1624f" stroke-width="1" fill="#eecbcb"/>
<circle cx="517.05" cy="449.85" r="2.5" stroke="#e1624f" stroke-width="0.85" fill="#fff"/>
<circle cx="519.6" cy="448.85" r="2.5" stroke="#e1624f" stroke-width="0.85" fill="#fff"/>
<circle cx="522.15" cy="449.85" r="2.5" stroke="#e1624f" stroke-width="0.85" fill="#fff"/>
<rect x="543.7" y="441.36" width="9.6" height="14.64" stroke="#7ccacd" stroke-width="1" fill="#ddf0f0"/>
<circle cx="545.01" cy="441.36" r="2.5" stroke="#7ccacd" stroke-width="0.85" fill="#fff"/>
<circle cx="548.5" cy="441.36" r="2.5" stroke="#7ccacd" stroke-width="0.85" fill="#fff"/>
<circle cx="551.99" cy="441.36" r="2.5" stroke="#7ccacd" stroke-width="0.85" fill="#fff"/>
<rect x="561.2" y="442.38" width="9.6" height="13.62" stroke="#e1624f" stroke-width="1" fill="#eecbcb"/>
<circle cx="563.45" cy="443.38" r="2.5" stroke="#e1624f" stroke-width="0.85" fill="#fff"/>
<circle cx="566" cy="440.38" r="2.5" stroke="#e1624f" stroke-width="0.85" fill="#fff"/>
<circle cx="568.55" cy="441.38" r="2.5" stroke="#e1624f" stroke-width="0.85" fill="#fff"/>
<rect x="590.2" y="441.36" width="9.6" height="14.64" stroke="#7ccacd" stroke-width="1" fill="#ddf0f0"/>
<circle cx="591.51" cy="441.36" r="2.5" stroke="#7ccacd" stroke-width="0.85" fill="#fff"/>
<circle cx="595" cy="441.36" r="2.5" stroke="#7ccacd" stroke-width="0.85" fill="#fff"/>
<circle cx="598.49" cy="441.36" r="2.5" stroke="#7ccacd" stroke-width="0.85" fill="#fff"/>
<rect x="607.6" y="441.07" width="9.6" height="14.93" stroke="#e1624f" stroke-width="1" fill="#eecbcb"/>
<circle cx="609.85" cy="442.07" r="2.5" stroke="#e1624f" stroke-width="0.85" fill="#fff"/>
<circle cx="612.4" cy="439.07" r="2.5" stroke="#e1624f" stroke-width="0.85" fill="#fff"/>
<circle cx="614.95" cy="441.07" r="2.5" stroke="#e1624f" stroke-width="0.85" fill="#fff"/>
<rect x="636.6" y="441.36" width="9.6" height="14.64" stroke="#7ccacd" stroke-width="1" fill="#ddf0f0"/>
<circle cx="637.91" cy="441.36" r="2.5" stroke="#7ccacd" stroke-width="0.85" fill="#fff"/>
<circle cx="641.4" cy="441.36" r="2.5" stroke="#7ccacd" stroke-width="0.85" fill="#fff"/>
<circle cx="644.88" cy="441.36" r="2.5" stroke="#7ccacd" stroke-width="0.85" fill="#fff"/>
<rect x="654.7" y="396.71" width="9.6" height="59.29" stroke="#e1624f" stroke-width="1" fill="#eecbcb"/>
<circle cx="656.95" cy="390.71" r="2.5" stroke="#e1624f" stroke-width="0.85" fill="#fff"/>
<circle cx="662.05" cy="395.71" r="2.5" stroke="#e1624f" stroke-width="0.85" fill="#fff"/>
<circle cx="656.95" cy="398.71" r="2.5" stroke="#e1624f" stroke-width="0.85" fill="#fff"/>
<line x1="490.6" y1="456" x2="671.9" y2="456" stroke="#484848" stroke-width="1.2"/>
<path d="M502.7 432V428.4H518.9V445.2" stroke="#555555" stroke-width="1" fill="none"/>
<text x="510.1" y="430.55" font-size="12.5" text-anchor="middle" fill="#111">**</text>
<path d="M548 435.7V430.6H566.4V435.7" stroke="#555555" stroke-width="1" fill="none"/>
<text x="557.3" y="428.4" font-size="10.5" text-anchor="middle" fill="#231f20" stroke="#231f20" stroke-width="0.15">N.S.</text>
<path d="M595.2 435.9V431.2H613.5V435.9" stroke="#555555" stroke-width="1" fill="none"/>
<text x="604.8" y="428.6" font-size="10.5" text-anchor="middle" fill="#231f20" stroke="#231f20" stroke-width="0.15">N.S.</text>
<path d="M642.4 431.5V382.3H659.5V387" stroke="#555555" stroke-width="1" fill="none"/>
<text x="650.4" y="385.25" font-size="12.5" text-anchor="middle" fill="#111">**</text>
<text x="439.21" y="419.4" font-size="11.4" text-anchor="middle" transform="rotate(-90 439.21 419.4)" fill="#231f20" stroke="#231f20" stroke-width="0.15">FABP5</text>
<line x1="443.8" y1="380.1" x2="443.8" y2="458.1" stroke="#777" stroke-width="1"/>
<text x="460.31" y="426.5" font-size="11.4" text-anchor="middle" transform="rotate(-90 460.31 426.5)" fill="#231f20" stroke="#231f20" stroke-width="0.15">Relative mRNA (%)</text>
<text x="504.8" y="465" font-size="12" text-anchor="end" transform="rotate(-45 504.8 465)" fill="#231f20" stroke="#231f20" stroke-width="0.15">Empty</text>
<text x="526.5" y="465" font-size="12" text-anchor="end" transform="rotate(-45 526.5 465)" fill="#231f20" stroke="#231f20" stroke-width="0.15">METTL3</text>
<text x="551.2" y="465" font-size="12" text-anchor="end" transform="rotate(-45 551.2 465)" fill="#231f20" stroke="#231f20" stroke-width="0.15">Empty</text>
<text x="572" y="465" font-size="12" text-anchor="end" transform="rotate(-45 572 465)" fill="#231f20" stroke="#231f20" stroke-width="0.15">METTL14</text>
<text x="599.9" y="465" font-size="12" text-anchor="end" transform="rotate(-45 599.9 465)" fill="#231f20" stroke="#231f20" stroke-width="0.15">Empty</text>
<text x="620.6" y="465" font-size="12" text-anchor="end" transform="rotate(-45 620.6 465)" fill="#231f20" stroke="#231f20" stroke-width="0.15">FTO</text>
<text x="646.3" y="465" font-size="12" text-anchor="end" transform="rotate(-45 646.3 465)" fill="#231f20" stroke="#231f20" stroke-width="0.15">Empty</text>
<text x="666.4" y="465" font-size="12" text-anchor="end" transform="rotate(-45 666.4 465)" fill="#231f20" stroke="#231f20" stroke-width="0.15">ALKBH5</text>
<text x="2.6" y="508.9" font-size="15.6" font-weight="bold" fill="#231f20">E</text>
<rect x="80.3" y="510.4" width="151.7" height="13.7" stroke="#555" stroke-width="1" fill="none"/>
<line x1="82.2" y1="517.2" x2="95.5" y2="517.2" stroke="#5fbfc3" stroke-width="0.9"/>
<circle cx="88.7" cy="517.2" r="1.7" stroke="#5fbfc3" stroke-width="0.5" fill="#5fbfc3"/>
<text x="99.1" y="520.6" font-size="9.4" fill="#231f20">Ctrl</text>
<line x1="118.4" y1="517.2" x2="130.9" y2="517.2" stroke="#9b4fae" stroke-width="0.9"/>
<rect x="122.6" y="515.4" width="3.6" height="3.6" stroke="#9b4fae" stroke-width="0.3" fill="#9b4fae"/>
<text x="135.2" y="520.6" font-size="9.4" fill="#231f20">ALKBH5</text>
<line x1="175" y1="517.2" x2="188.2" y2="517.2" stroke="#e0442f" stroke-width="0.9"/>
<path d="M179.7 518.9L181.7 515.4L183.7 518.9Z" stroke="#e0442f" stroke-width="0.3" fill="#e0442f"/>
<text x="193" y="520.6" font-size="9.4" fill="#231f20">METTL3</text>
<line x1="86.4" y1="529.8" x2="86.4" y2="617" stroke="#484848" stroke-width="1.1"/>
<line x1="80.9" y1="617" x2="86.4" y2="617" stroke="#484848" stroke-width="1.1"/>
<text x="79.9" y="621.76" font-size="11" text-anchor="end" fill="#231f20" stroke="#231f20" stroke-width="0.15">0</text>
<line x1="80.9" y1="587.93" x2="86.4" y2="587.93" stroke="#484848" stroke-width="1.1"/>
<text x="79.9" y="592.69" font-size="11" text-anchor="end" fill="#231f20" stroke="#231f20" stroke-width="0.15">50</text>
<line x1="80.9" y1="558.87" x2="86.4" y2="558.87" stroke="#484848" stroke-width="1.1"/>
<text x="79.9" y="563.63" font-size="11" text-anchor="end" fill="#231f20" stroke="#231f20" stroke-width="0.15">100</text>
<line x1="80.9" y1="529.8" x2="86.4" y2="529.8" stroke="#484848" stroke-width="1.1"/>
<text x="79.9" y="534.56" font-size="11" text-anchor="end" fill="#231f20" stroke="#231f20" stroke-width="0.15">150</text>
<line x1="86.4" y1="617" x2="233" y2="617" stroke="#484848" stroke-width="1.2"/>
<line x1="108.7" y1="617" x2="108.7" y2="622.6" stroke="#484848" stroke-width="1.1"/>
<line x1="142.6" y1="617" x2="142.6" y2="622.6" stroke="#484848" stroke-width="1.1"/>
<line x1="176.5" y1="617" x2="176.5" y2="622.6" stroke="#484848" stroke-width="1.1"/>
<line x1="210.3" y1="617" x2="210.3" y2="622.6" stroke="#484848" stroke-width="1.1"/>
<path d="M108.7 559.2L142.6 573.9L176.5 589L210.3 603.5" stroke="#e0442f" stroke-width="1" fill="none"/>
<line x1="142.6" y1="571.9" x2="142.6" y2="575.9" stroke="#e0442f" stroke-width="0.9"/>
<line x1="140.6" y1="571.9" x2="144.6" y2="571.9" stroke="#e0442f" stroke-width="0.9"/>
<line x1="140.6" y1="575.9" x2="144.6" y2="575.9" stroke="#e0442f" stroke-width="0.9"/>
<path d="M108.7 559.2L142.6 571.5L176.5 582L210.3 591.9" stroke="#5fbfc3" stroke-width="1" fill="none"/>
<line x1="142.6" y1="569.5" x2="142.6" y2="573.5" stroke="#5fbfc3" stroke-width="0.9"/>
<line x1="140.6" y1="569.5" x2="144.6" y2="569.5" stroke="#5fbfc3" stroke-width="0.9"/>
<line x1="140.6" y1="573.5" x2="144.6" y2="573.5" stroke="#5fbfc3" stroke-width="0.9"/>
<line x1="176.5" y1="579" x2="176.5" y2="585" stroke="#5fbfc3" stroke-width="0.9"/>
<line x1="174.5" y1="579" x2="178.5" y2="579" stroke="#5fbfc3" stroke-width="0.9"/>
<line x1="174.5" y1="585" x2="178.5" y2="585" stroke="#5fbfc3" stroke-width="0.9"/>
<path d="M108.7 559.2L142.6 564.5L176.5 574.6L210.3 583.6" stroke="#9b4fae" stroke-width="1" fill="none"/>
<line x1="142.6" y1="563" x2="142.6" y2="566" stroke="#9b4fae" stroke-width="0.9"/>
<line x1="140.6" y1="563" x2="144.6" y2="563" stroke="#9b4fae" stroke-width="0.9"/>
<line x1="140.6" y1="566" x2="144.6" y2="566" stroke="#9b4fae" stroke-width="0.9"/>
<line x1="176.5" y1="571.1" x2="176.5" y2="578.1" stroke="#9b4fae" stroke-width="0.9"/>
<line x1="174.5" y1="571.1" x2="178.5" y2="571.1" stroke="#9b4fae" stroke-width="0.9"/>
<line x1="174.5" y1="578.1" x2="178.5" y2="578.1" stroke="#9b4fae" stroke-width="0.9"/>
<circle cx="108.7" cy="559.2" r="2.4" stroke="#5fbfc3" stroke-width="0.3" fill="#5fbfc3"/>
<circle cx="142.6" cy="571.5" r="2.4" stroke="#5fbfc3" stroke-width="0.3" fill="#5fbfc3"/>
<circle cx="176.5" cy="582" r="2.4" stroke="#5fbfc3" stroke-width="0.3" fill="#5fbfc3"/>
<circle cx="210.3" cy="591.9" r="2.4" stroke="#5fbfc3" stroke-width="0.3" fill="#5fbfc3"/>
<rect x="106.5" y="557" width="4.4" height="4.4" stroke="#9b4fae" stroke-width="0.3" fill="#9b4fae"/>
<rect x="140.4" y="562.3" width="4.4" height="4.4" stroke="#9b4fae" stroke-width="0.3" fill="#9b4fae"/>
<rect x="174.3" y="572.4" width="4.4" height="4.4" stroke="#9b4fae" stroke-width="0.3" fill="#9b4fae"/>
<rect x="208.1" y="581.4" width="4.4" height="4.4" stroke="#9b4fae" stroke-width="0.3" fill="#9b4fae"/>
<path d="M106.4 561.27L108.7 557.13L111 561.27Z" stroke="#e0442f" stroke-width="0.3" fill="#e0442f"/>
<path d="M140.3 575.97L142.6 571.83L144.9 575.97Z" stroke="#e0442f" stroke-width="0.3" fill="#e0442f"/>
<path d="M174.2 591.07L176.5 586.93L178.8 591.07Z" stroke="#e0442f" stroke-width="0.3" fill="#e0442f"/>
<path d="M208 605.57L210.3 601.43L212.6 605.57Z" stroke="#e0442f" stroke-width="0.3" fill="#e0442f"/>
<path d="M215.1 583.4H225.7V591.9H223.8" stroke="#555555" stroke-width="1" fill="none"/>
<path d="M215.1 592.3H221.6V604.3H215.1" stroke="#555555" stroke-width="1" fill="none"/>
<text x="222.7" y="588.3" font-size="10.5" text-anchor="middle" transform="rotate(90 222.7 588.3)" fill="#231f20">**</text>
<text x="218.7" y="598.3" font-size="10.5" text-anchor="middle" transform="rotate(90 218.7 598.3)" fill="#231f20">**</text>
<text x="35.71" y="570.2" font-size="11.4" text-anchor="middle" transform="rotate(-90 35.71 570.2)" fill="#231f20" stroke="#231f20" stroke-width="0.15">CRABP2</text>
<line x1="42" y1="526.8" x2="42" y2="617" stroke="#777" stroke-width="1"/>
<text x="55.88" y="572" font-size="11.3" text-anchor="middle" transform="rotate(-90 55.88 572)" fill="#231f20" stroke="#231f20" stroke-width="0.15">Relative mRNA(%)</text>
<line x1="87.6" y1="640.1" x2="87.6" y2="727.3" stroke="#484848" stroke-width="1.1"/>
<line x1="82.1" y1="727.3" x2="87.6" y2="727.3" stroke="#484848" stroke-width="1.1"/>
<text x="81.1" y="732.06" font-size="11" text-anchor="end" fill="#231f20" stroke="#231f20" stroke-width="0.15">0</text>
<line x1="82.1" y1="698.23" x2="87.6" y2="698.23" stroke="#484848" stroke-width="1.1"/>
<text x="81.1" y="702.99" font-size="11" text-anchor="end" fill="#231f20" stroke="#231f20" stroke-width="0.15">50</text>
<line x1="82.1" y1="669.17" x2="87.6" y2="669.17" stroke="#484848" stroke-width="1.1"/>
<text x="81.1" y="673.93" font-size="11" text-anchor="end" fill="#231f20" stroke="#231f20" stroke-width="0.15">100</text>
<line x1="82.1" y1="640.1" x2="87.6" y2="640.1" stroke="#484848" stroke-width="1.1"/>
<text x="81.1" y="644.86" font-size="11" text-anchor="end" fill="#231f20" stroke="#231f20" stroke-width="0.15">150</text>
<line x1="87.6" y1="727.3" x2="233" y2="727.3" stroke="#484848" stroke-width="1.2"/>
<line x1="108.7" y1="727.3" x2="108.7" y2="732.9" stroke="#484848" stroke-width="1.1"/>
<line x1="142.6" y1="727.3" x2="142.6" y2="732.9" stroke="#484848" stroke-width="1.1"/>
<line x1="176.5" y1="727.3" x2="176.5" y2="732.9" stroke="#484848" stroke-width="1.1"/>
<line x1="210.3" y1="727.3" x2="210.3" y2="732.9" stroke="#484848" stroke-width="1.1"/>
<path d="M108.7 669.2L142.6 686.9L176.5 694.8L210.3 705.6" stroke="#e0442f" stroke-width="1" fill="none"/>
<line x1="210.3" y1="703.6" x2="210.3" y2="707.6" stroke="#e0442f" stroke-width="0.9"/>
<line x1="208.3" y1="703.6" x2="212.3" y2="703.6" stroke="#e0442f" stroke-width="0.9"/>
<line x1="208.3" y1="707.6" x2="212.3" y2="707.6" stroke="#e0442f" stroke-width="0.9"/>
<path d="M108.7 669.2L142.6 675.2L176.5 681.5L210.3 692" stroke="#5fbfc3" stroke-width="1" fill="none"/>
<line x1="142.6" y1="672.7" x2="142.6" y2="677.7" stroke="#5fbfc3" stroke-width="0.9"/>
<line x1="140.6" y1="672.7" x2="144.6" y2="672.7" stroke="#5fbfc3" stroke-width="0.9"/>
<line x1="140.6" y1="677.7" x2="144.6" y2="677.7" stroke="#5fbfc3" stroke-width="0.9"/>
<line x1="176.5" y1="679.5" x2="176.5" y2="683.5" stroke="#5fbfc3" stroke-width="0.9"/>
<line x1="174.5" y1="679.5" x2="178.5" y2="679.5" stroke="#5fbfc3" stroke-width="0.9"/>
<line x1="174.5" y1="683.5" x2="178.5" y2="683.5" stroke="#5fbfc3" stroke-width="0.9"/>
<line x1="210.3" y1="690" x2="210.3" y2="694" stroke="#5fbfc3" stroke-width="0.9"/>
<line x1="208.3" y1="690" x2="212.3" y2="690" stroke="#5fbfc3" stroke-width="0.9"/>
<line x1="208.3" y1="694" x2="212.3" y2="694" stroke="#5fbfc3" stroke-width="0.9"/>
<path d="M108.7 669.2L142.6 672.2L176.5 678.5L210.3 682.2" stroke="#9b4fae" stroke-width="1" fill="none"/>
<line x1="142.6" y1="670.2" x2="142.6" y2="674.2" stroke="#9b4fae" stroke-width="0.9"/>
<line x1="140.6" y1="670.2" x2="144.6" y2="670.2" stroke="#9b4fae" stroke-width="0.9"/>
<line x1="140.6" y1="674.2" x2="144.6" y2="674.2" stroke="#9b4fae" stroke-width="0.9"/>
<line x1="176.5" y1="674.5" x2="176.5" y2="682.5" stroke="#9b4fae" stroke-width="0.9"/>
<line x1="174.5" y1="674.5" x2="178.5" y2="674.5" stroke="#9b4fae" stroke-width="0.9"/>
<line x1="174.5" y1="682.5" x2="178.5" y2="682.5" stroke="#9b4fae" stroke-width="0.9"/>
<line x1="210.3" y1="678.2" x2="210.3" y2="686.2" stroke="#9b4fae" stroke-width="0.9"/>
<line x1="208.3" y1="678.2" x2="212.3" y2="678.2" stroke="#9b4fae" stroke-width="0.9"/>
<line x1="208.3" y1="686.2" x2="212.3" y2="686.2" stroke="#9b4fae" stroke-width="0.9"/>
<circle cx="108.7" cy="669.2" r="2.4" stroke="#5fbfc3" stroke-width="0.3" fill="#5fbfc3"/>
<circle cx="142.6" cy="675.2" r="2.4" stroke="#5fbfc3" stroke-width="0.3" fill="#5fbfc3"/>
<circle cx="176.5" cy="681.5" r="2.4" stroke="#5fbfc3" stroke-width="0.3" fill="#5fbfc3"/>
<circle cx="210.3" cy="692" r="2.4" stroke="#5fbfc3" stroke-width="0.3" fill="#5fbfc3"/>
<rect x="106.5" y="667" width="4.4" height="4.4" stroke="#9b4fae" stroke-width="0.3" fill="#9b4fae"/>
<rect x="140.4" y="670" width="4.4" height="4.4" stroke="#9b4fae" stroke-width="0.3" fill="#9b4fae"/>
<rect x="174.3" y="676.3" width="4.4" height="4.4" stroke="#9b4fae" stroke-width="0.3" fill="#9b4fae"/>
<rect x="208.1" y="680" width="4.4" height="4.4" stroke="#9b4fae" stroke-width="0.3" fill="#9b4fae"/>
<path d="M106.7 671L108.7 667.4L110.7 671Z" stroke="#e0442f" stroke-width="0.3" fill="#e0442f"/>
<circle cx="142.6" cy="686.9" r="1.3" stroke="#e0442f" stroke-width="0.3" fill="#e0442f"/>
<circle cx="176.5" cy="694.8" r="1.3" stroke="#e0442f" stroke-width="0.3" fill="#e0442f"/>
<path d="M208.3 707.4L210.3 703.8L212.3 707.4Z" stroke="#e0442f" stroke-width="0.3" fill="#e0442f"/>
<path d="M215.1 682.2H226V692H224" stroke="#555555" stroke-width="1" fill="none"/>
<path d="M215.1 692.5H221.3V706H215.1" stroke="#555555" stroke-width="1" fill="none"/>
<text x="222.9" y="687.3" font-size="10.5" text-anchor="middle" transform="rotate(90 222.9 687.3)" fill="#231f20">**</text>
<text x="218.4" y="699.3" font-size="10.5" text-anchor="middle" transform="rotate(90 218.4 699.3)" fill="#231f20">**</text>
<text x="34.91" y="678.2" font-size="11.4" text-anchor="middle" transform="rotate(-90 34.91 678.2)" fill="#231f20" stroke="#231f20" stroke-width="0.15">FABP5</text>
<line x1="41.6" y1="639.5" x2="41.6" y2="728.3" stroke="#777" stroke-width="1"/>
<text x="55.98" y="683.9" font-size="11.3" text-anchor="middle" transform="rotate(-90 55.98 683.9)" fill="#231f20" stroke="#231f20" stroke-width="0.15">Relative mRNA(%)</text>
<text x="108.7" y="744.6" font-size="11.5" text-anchor="middle" fill="#231f20" stroke="#231f20" stroke-width="0.15">0</text>
<text x="142.6" y="744.6" font-size="11.5" text-anchor="middle" fill="#231f20" stroke="#231f20" stroke-width="0.15">2</text>
<text x="176.5" y="744.6" font-size="11.5" text-anchor="middle" fill="#231f20" stroke="#231f20" stroke-width="0.15">4</text>
<text x="210.3" y="744.6" font-size="11.5" text-anchor="middle" fill="#231f20" stroke="#231f20" stroke-width="0.15">8</text>
<text x="150.1" y="761" font-size="11.6" text-anchor="middle" fill="#231f20" stroke="#231f20" stroke-width="0.15">Time (hours)</text>
<text x="35.5" y="744.5" font-size="11.5" fill="#231f20" stroke="#231f20" stroke-width="0.15">ActD</text>
<text x="298.3" y="508.8" font-size="15.6" font-weight="bold" fill="#231f20">F</text>
<line x1="299" y1="528.8" x2="678" y2="528.8" stroke="#a0a0a0" stroke-width="1.6"/>
<line x1="299" y1="561.2" x2="678" y2="561.2" stroke="#a0a0a0" stroke-width="1.6"/>
<line x1="299.5" y1="619.5" x2="678" y2="619.5" stroke="#555" stroke-width="1" stroke-dasharray="1.6 1.4"/>
<line x1="299" y1="656" x2="678" y2="656" stroke="#a0a0a0" stroke-width="1.6"/>
<text x="356.8" y="550.6" font-size="11.6" text-anchor="middle" fill="#231f20" stroke="#231f20" stroke-width="0.15">mRNA</text>
<text x="509.8" y="550.6" font-size="11.6" text-anchor="middle" fill="#231f20" stroke="#231f20" stroke-width="0.15">sequence</text>
<text x="633.2" y="550.6" font-size="11.6" text-anchor="middle" fill="#231f20" stroke="#231f20" stroke-width="0.15">combined score</text>
<text x="295.5" y="584.4" font-size="11.6" fill="#231f20" stroke="#231f20" stroke-width="0.15"><tspan font-style="italic">CRABP2</tspan> (NM_001878.4 &amp;</text>
<text x="366" y="598.2" font-size="11.6" text-anchor="middle" fill="#231f20" stroke="#231f20" stroke-width="0.15">NM_001199723.2)</text>
<text x="296.1" y="638.8" font-size="11.6" fill="#231f20" stroke="#231f20" stroke-width="0.15"><tspan font-style="italic">FABP5</tspan> (NM_001444.3)</text>
<text x="442.8" y="579.5" font-size="11.8" fill="#231f20" stroke="#231f20" stroke-width="0.15"><tspan fill="#231f20" stroke="#231f20">AAAGG </tspan><tspan fill="#e99a26" stroke="#e99a26">G</tspan><tspan fill="#e99a26" stroke="#e99a26">G</tspan><tspan fill="#e2332b" stroke="#e2332b">A</tspan><tspan fill="#e99a26" stroke="#e99a26">C</tspan><tspan fill="#e99a26" stroke="#e99a26">U</tspan><tspan fill="#231f20" stroke="#231f20"> UGAGG</tspan></text>
<circle cx="491.9" cy="582.2" r="0.85" stroke="#222" stroke-width="0.2" fill="#222"/>
<circle cx="526.2" cy="582.2" r="0.85" stroke="#222" stroke-width="0.2" fill="#222"/>
<text x="491.9" y="591.3" font-size="9.0" text-anchor="middle" fill="#231f20" stroke="#231f20" stroke-width="0.2">895</text>
<text x="526.2" y="591.3" font-size="9.0" text-anchor="middle" fill="#231f20" stroke="#231f20" stroke-width="0.2">899</text>
<text x="444.5" y="603.9" font-size="11.8" fill="#231f20" stroke="#231f20" stroke-width="0.15"><tspan fill="#231f20" stroke="#231f20">AGGAA </tspan><tspan fill="#e99a26" stroke="#e99a26">A</tspan><tspan fill="#e99a26" stroke="#e99a26">G</tspan><tspan fill="#e2332b" stroke="#e2332b">A</tspan><tspan fill="#e99a26" stroke="#e99a26">C</tspan><tspan fill="#e99a26" stroke="#e99a26">U</tspan><tspan fill="#231f20" stroke="#231f20"> GGCCC</tspan></text>
<circle cx="491.2" cy="606.6" r="0.85" stroke="#222" stroke-width="0.2" fill="#222"/>
<circle cx="524.6" cy="606.6" r="0.85" stroke="#222" stroke-width="0.2" fill="#222"/>
<text x="491.2" y="615.8" font-size="9.0" text-anchor="middle" fill="#231f20" stroke="#231f20" stroke-width="0.2">918</text>
<text x="524.6" y="615.8" font-size="9.0" text-anchor="middle" fill="#231f20" stroke="#231f20" stroke-width="0.2">922</text>
<text x="443.5" y="639.3" font-size="11.8" fill="#231f20" stroke="#231f20" stroke-width="0.15"><tspan fill="#231f20" stroke="#231f20">ACUUU </tspan><tspan fill="#e99a26" stroke="#e99a26">G</tspan><tspan fill="#e99a26" stroke="#e99a26">G</tspan><tspan fill="#e2332b" stroke="#e2332b">A</tspan><tspan fill="#e99a26" stroke="#e99a26">C</tspan><tspan fill="#e99a26" stroke="#e99a26">A</tspan><tspan fill="#231f20" stroke="#231f20"> GGAGU</tspan></text>
<circle cx="491.9" cy="642" r="0.85" stroke="#222" stroke-width="0.2" fill="#222"/>
<circle cx="525.8" cy="642" r="0.85" stroke="#222" stroke-width="0.2" fill="#222"/>
<text x="491.9" y="650.5" font-size="9.0" text-anchor="middle" fill="#231f20" stroke="#231f20" stroke-width="0.2">487</text>
<text x="525.8" y="650.5" font-size="9.0" text-anchor="middle" fill="#231f20" stroke="#231f20" stroke-width="0.2">491</text>
<text x="631.8" y="577.8" font-size="11.6" text-anchor="middle" fill="#231f20" stroke="#231f20" stroke-width="0.15">0.679</text>
<text x="631.8" y="600" font-size="11.6" text-anchor="middle" fill="#231f20" stroke="#231f20" stroke-width="0.15">0.637</text>
<text x="631.8" y="639.3" font-size="11.6" text-anchor="middle" fill="#231f20" stroke="#231f20" stroke-width="0.15">0.568</text>
<text x="1" y="781" font-size="15.6" font-weight="bold" fill="#231f20">G</text>
<text x="58.3" y="834.9" font-size="11.6" text-anchor="middle" font-style="italic" fill="#231f20" stroke="#231f20" stroke-width="0.15">Mut1-CRABP2-3‘UTR</text>
<text x="58.3" y="860.6" font-size="11.6" text-anchor="middle" font-style="italic" fill="#231f20" stroke="#231f20" stroke-width="0.15">Mut2-CRABP2-3‘UTR</text>
<text x="58.9" y="886.2" font-size="11.6" text-anchor="middle" font-style="italic" fill="#231f20" stroke="#231f20" stroke-width="0.15">Mut-FABP5-3‘UTR</text>
<text x="130.5" y="835.2" font-size="11.9" fill="#231f20" stroke="#231f20" stroke-width="0.15"><tspan fill="#231f20" stroke="#231f20">AAAGG </tspan><tspan fill="#e99a26" stroke="#e99a26">C</tspan><tspan fill="#e99a26" stroke="#e99a26">G</tspan><tspan fill="#e2332b" stroke="#e2332b">C</tspan><tspan fill="#e99a26" stroke="#e99a26">C</tspan><tspan fill="#e99a26" stroke="#e99a26">A</tspan><tspan fill="#231f20" stroke="#231f20"> UGAGG</tspan></text>
<circle cx="179.6" cy="837.9" r="0.85" stroke="#222" stroke-width="0.2" fill="#222"/>
<circle cx="213.4" cy="837.9" r="0.85" stroke="#222" stroke-width="0.2" fill="#222"/>
<text x="179.6" y="847.1" font-size="9.0" text-anchor="middle" fill="#231f20" stroke="#231f20" stroke-width="0.2">895</text>
<text x="213.4" y="847.1" font-size="9.0" text-anchor="middle" fill="#231f20" stroke="#231f20" stroke-width="0.2">899</text>
<text x="131.2" y="860.9" font-size="11.9" fill="#231f20" stroke="#231f20" stroke-width="0.15"><tspan fill="#231f20" stroke="#231f20">AGGAA </tspan><tspan fill="#e99a26" stroke="#e99a26">C</tspan><tspan fill="#e99a26" stroke="#e99a26">G</tspan><tspan fill="#e2332b" stroke="#e2332b">C</tspan><tspan fill="#e99a26" stroke="#e99a26">C</tspan><tspan fill="#e99a26" stroke="#e99a26">A</tspan><tspan fill="#231f20" stroke="#231f20"> GGCCC</tspan></text>
<circle cx="178.8" cy="863.6" r="0.85" stroke="#222" stroke-width="0.2" fill="#222"/>
<circle cx="212.3" cy="863.6" r="0.85" stroke="#222" stroke-width="0.2" fill="#222"/>
<text x="178.8" y="872.1" font-size="9.0" text-anchor="middle" fill="#231f20" stroke="#231f20" stroke-width="0.2">918</text>
<text x="212.3" y="872.1" font-size="9.0" text-anchor="middle" fill="#231f20" stroke="#231f20" stroke-width="0.2">922</text>
<text x="130.2" y="885.4" font-size="11.9" fill="#231f20" stroke="#231f20" stroke-width="0.15"><tspan fill="#231f20" stroke="#231f20">ACUUU </tspan><tspan fill="#e99a26" stroke="#e99a26">C</tspan><tspan fill="#e99a26" stroke="#e99a26">G</tspan><tspan fill="#e2332b" stroke="#e2332b">C</tspan><tspan fill="#e99a26" stroke="#e99a26">C</tspan><tspan fill="#e99a26" stroke="#e99a26">C</tspan><tspan fill="#231f20" stroke="#231f20"> GGAGU</tspan></text>
<circle cx="179.6" cy="888.1" r="0.85" stroke="#222" stroke-width="0.2" fill="#222"/>
<circle cx="213.4" cy="888.1" r="0.85" stroke="#222" stroke-width="0.2" fill="#222"/>
<text x="179.6" y="897.3" font-size="9.0" text-anchor="middle" fill="#231f20" stroke="#231f20" stroke-width="0.2">487</text>
<text x="213.4" y="897.3" font-size="9.0" text-anchor="middle" fill="#231f20" stroke="#231f20" stroke-width="0.2">491</text>
<text x="300.3" y="698.3" font-size="15.6" font-weight="bold" fill="#231f20">H</text>
<text x="406" y="723" font-size="11.7" text-anchor="end" font-style="italic" fill="#231f20" stroke="#231f20" stroke-width="0.15">ex-WT-CRABP2-3‘UTR</text>
<text x="406" y="744.8" font-size="11.7" text-anchor="end" font-style="italic" fill="#231f20" stroke="#231f20" stroke-width="0.15">ex-Mut1-CRABP2-3‘UTR</text>
<text x="406" y="766.3" font-size="11.7" text-anchor="end" font-style="italic" fill="#231f20" stroke="#231f20" stroke-width="0.15">ex-Mut2-CRABP2-3‘UTR</text>
<text x="406" y="787.8" font-size="11.7" text-anchor="end" font-style="italic" fill="#231f20" stroke="#231f20" stroke-width="0.15">ex-Mut1+Mut2-CRABP2-3‘UTR</text>
<line x1="420" y1="718.7" x2="425.8" y2="718.7" stroke="#222" stroke-width="1.1"/>
<line x1="422.9" y1="715.8" x2="422.9" y2="721.6" stroke="#222" stroke-width="1.1"/>
<line x1="448.2" y1="718.7" x2="451.6" y2="718.7" stroke="#222" stroke-width="1.1"/>
<line x1="474" y1="718.7" x2="477.4" y2="718.7" stroke="#222" stroke-width="1.1"/>
<line x1="499" y1="718.7" x2="502.4" y2="718.7" stroke="#222" stroke-width="1.1"/>
<line x1="421.2" y1="740.8" x2="424.6" y2="740.8" stroke="#222" stroke-width="1.1"/>
<line x1="447" y1="740.8" x2="452.8" y2="740.8" stroke="#222" stroke-width="1.1"/>
<line x1="449.9" y1="737.9" x2="449.9" y2="743.7" stroke="#222" stroke-width="1.1"/>
<line x1="474" y1="740.8" x2="477.4" y2="740.8" stroke="#222" stroke-width="1.1"/>
<line x1="499" y1="740.8" x2="502.4" y2="740.8" stroke="#222" stroke-width="1.1"/>
<line x1="421.2" y1="761.6" x2="424.6" y2="761.6" stroke="#222" stroke-width="1.1"/>
<line x1="448.2" y1="761.6" x2="451.6" y2="761.6" stroke="#222" stroke-width="1.1"/>
<line x1="472.8" y1="761.6" x2="478.6" y2="761.6" stroke="#222" stroke-width="1.1"/>
<line x1="475.7" y1="758.7" x2="475.7" y2="764.5" stroke="#222" stroke-width="1.1"/>
<line x1="499" y1="761.6" x2="502.4" y2="761.6" stroke="#222" stroke-width="1.1"/>
<line x1="421.2" y1="783.2" x2="424.6" y2="783.2" stroke="#222" stroke-width="1.1"/>
<line x1="448.2" y1="783.2" x2="451.6" y2="783.2" stroke="#222" stroke-width="1.1"/>
<line x1="474" y1="783.2" x2="477.4" y2="783.2" stroke="#222" stroke-width="1.1"/>
<line x1="497.8" y1="783.2" x2="503.6" y2="783.2" stroke="#222" stroke-width="1.1"/>
<line x1="500.7" y1="780.3" x2="500.7" y2="786.1" stroke="#222" stroke-width="1.1"/>
<text x="628.8" y="723" font-size="11.7" text-anchor="end" font-style="italic" fill="#231f20" stroke="#231f20" stroke-width="0.15">ex-WT-FABP5-3‘UTR</text>
<text x="628.8" y="744.8" font-size="11.7" text-anchor="end" font-style="italic" fill="#231f20" stroke="#231f20" stroke-width="0.15">ex-Mut-FABP5-3‘UTR</text>
<line x1="638.4" y1="718.7" x2="644.2" y2="718.7" stroke="#222" stroke-width="1.1"/>
<line x1="641.3" y1="715.8" x2="641.3" y2="721.6" stroke="#222" stroke-width="1.1"/>
<line x1="672.8" y1="718.7" x2="676.2" y2="718.7" stroke="#222" stroke-width="1.1"/>
<line x1="639.6" y1="740.8" x2="643" y2="740.8" stroke="#222" stroke-width="1.1"/>
<line x1="671.6" y1="740.8" x2="677.4" y2="740.8" stroke="#222" stroke-width="1.1"/>
<line x1="674.5" y1="737.9" x2="674.5" y2="743.7" stroke="#222" stroke-width="1.1"/>
<line x1="410.8" y1="804.25" x2="410.8" y2="906.4" stroke="#484848" stroke-width="1.1"/>
<line x1="406.3" y1="906.4" x2="410.8" y2="906.4" stroke="#484848" stroke-width="1.1"/>
<text x="405" y="911.16" font-size="11" text-anchor="end" fill="#231f20" stroke="#231f20" stroke-width="0.15">0</text>
<line x1="406.3" y1="872.35" x2="410.8" y2="872.35" stroke="#484848" stroke-width="1.1"/>
<text x="405" y="877.11" font-size="11" text-anchor="end" fill="#231f20" stroke="#231f20" stroke-width="0.15">5</text>
<line x1="406.3" y1="838.3" x2="410.8" y2="838.3" stroke="#484848" stroke-width="1.1"/>
<text x="405" y="843.06" font-size="11" text-anchor="end" fill="#231f20" stroke="#231f20" stroke-width="0.15">10</text>
<line x1="406.3" y1="804.25" x2="410.8" y2="804.25" stroke="#484848" stroke-width="1.1"/>
<text x="405" y="809.01" font-size="11" text-anchor="end" fill="#231f20" stroke="#231f20" stroke-width="0.15">15</text>
<rect x="416.2" y="820.59" width="9.6" height="85.81" stroke="#e1624f" stroke-width="1" fill="#eecbcb"/>
<line x1="421" y1="811.09" x2="421" y2="830.09" stroke="#e1624f" stroke-width="0.9"/>
<line x1="419" y1="811.09" x2="423" y2="811.09" stroke="#e1624f" stroke-width="0.9"/>
<circle cx="421" cy="811.09" r="2.2" stroke="#e1624f" stroke-width="0.85" fill="#fff"/>
<circle cx="418.45" cy="822.59" r="2.2" stroke="#e1624f" stroke-width="0.85" fill="#fff"/>
<circle cx="423.55" cy="822.09" r="2.2" stroke="#e1624f" stroke-width="0.85" fill="#fff"/>
<rect x="442.6" y="884.61" width="9.8" height="21.79" stroke="#7ccacd" stroke-width="1" fill="#ddf0f0"/>
<line x1="447.5" y1="879.61" x2="447.5" y2="889.61" stroke="#7ccacd" stroke-width="0.9"/>
<line x1="445.5" y1="879.61" x2="449.5" y2="879.61" stroke="#7ccacd" stroke-width="0.9"/>
<circle cx="445.8" cy="878.61" r="2.2" stroke="#7ccacd" stroke-width="0.85" fill="#fff"/>
<circle cx="450.05" cy="882.61" r="2.2" stroke="#7ccacd" stroke-width="0.85" fill="#fff"/>
<circle cx="447.5" cy="887.61" r="2.2" stroke="#7ccacd" stroke-width="0.85" fill="#fff"/>
<rect x="470" y="851.24" width="9.6" height="55.16" stroke="#a86bbd" stroke-width="1" fill="#e4d9ec"/>
<line x1="474.8" y1="847.24" x2="474.8" y2="855.24" stroke="#a86bbd" stroke-width="0.9"/>
<line x1="472.8" y1="847.24" x2="476.8" y2="847.24" stroke="#a86bbd" stroke-width="0.9"/>
<circle cx="472.25" cy="848.24" r="2.2" stroke="#a86bbd" stroke-width="0.85" fill="#fff"/>
<circle cx="477.35" cy="848.74" r="2.2" stroke="#a86bbd" stroke-width="0.85" fill="#fff"/>
<circle cx="474.8" cy="855.24" r="2.2" stroke="#a86bbd" stroke-width="0.85" fill="#fff"/>
<circle cx="498.1" cy="906.4" r="2.2" stroke="#66b163" stroke-width="0.85" fill="#fff"/>
<circle cx="501.3" cy="906.4" r="2.2" stroke="#66b163" stroke-width="0.85" fill="#fff"/>
<circle cx="504.5" cy="906.4" r="2.2" stroke="#66b163" stroke-width="0.85" fill="#fff"/>
<line x1="410.8" y1="906.4" x2="512.7" y2="906.4" stroke="#484848" stroke-width="1.2"/>
<line x1="421" y1="906.4" x2="421" y2="910.4" stroke="#484848" stroke-width="1.1"/>
<line x1="447.5" y1="906.4" x2="447.5" y2="910.4" stroke="#484848" stroke-width="1.1"/>
<line x1="474.8" y1="906.4" x2="474.8" y2="910.4" stroke="#484848" stroke-width="1.1"/>
<line x1="501.3" y1="906.4" x2="501.3" y2="910.4" stroke="#484848" stroke-width="1.1"/>
<text x="421" y="920.8" font-size="11.5" text-anchor="middle" fill="#231f20" stroke="#231f20" stroke-width="0.15">G1</text>
<text x="447.5" y="920.8" font-size="11.5" text-anchor="middle" fill="#231f20" stroke="#231f20" stroke-width="0.15">G2</text>
<text x="474.8" y="920.8" font-size="11.5" text-anchor="middle" fill="#231f20" stroke="#231f20" stroke-width="0.15">G3</text>
<text x="501.3" y="920.8" font-size="11.5" text-anchor="middle" fill="#231f20" stroke="#231f20" stroke-width="0.15">G4</text>
<path d="M421 807.5V803.1H461.7V829.4" stroke="#555555" stroke-width="1" fill="none"/>
<text x="442" y="806.15" font-size="12.5" text-anchor="middle" fill="#111">**</text>
<path d="M447.7 871.5V839.4H475V843.4" stroke="#555555" stroke-width="1" fill="none"/>
<line x1="461.4" y1="839.4" x2="461.4" y2="832" stroke="#555555" stroke-width="1"/>
<path d="M461.4 832V832H501.6V899" stroke="#555555" stroke-width="1" fill="none"/>
<text x="482" y="833.85" font-size="12.5" text-anchor="middle" fill="#111">**</text>
<text x="359.3" y="857.2" font-size="11.4" text-anchor="middle" transform="rotate(-90 359.3 857.2)" fill="#231f20" stroke="#231f20" stroke-width="0.15">THJ-16T</text>
<text x="374" y="856.9" font-size="11.7" text-anchor="middle" transform="rotate(-90 374 856.9)" fill="#231f20" stroke="#231f20" stroke-width="0.15">(CRABP2 KO)</text>
<text x="386.4" y="857" font-size="11.6" text-anchor="middle" transform="rotate(-90 386.4 857)" fill="#231f20" stroke="#231f20" stroke-width="0.15">Input (%)</text>
<line x1="633.5" y1="803.15" x2="633.5" y2="905.3" stroke="#484848" stroke-width="1.1"/>
<line x1="630.1" y1="905.3" x2="633.5" y2="905.3" stroke="#484848" stroke-width="1.1"/>
<text x="629.5" y="910.06" font-size="11" text-anchor="end" fill="#231f20" stroke="#231f20" stroke-width="0.15">0</text>
<line x1="630.1" y1="871.25" x2="633.5" y2="871.25" stroke="#484848" stroke-width="1.1"/>
<text x="629.5" y="876.01" font-size="11" text-anchor="end" fill="#231f20" stroke="#231f20" stroke-width="0.15">5</text>
<line x1="630.1" y1="837.2" x2="633.5" y2="837.2" stroke="#484848" stroke-width="1.1"/>
<text x="629.5" y="841.96" font-size="11" text-anchor="end" fill="#231f20" stroke="#231f20" stroke-width="0.15">10</text>
<line x1="630.1" y1="803.15" x2="633.5" y2="803.15" stroke="#484848" stroke-width="1.1"/>
<text x="629.5" y="807.91" font-size="11" text-anchor="end" fill="#231f20" stroke="#231f20" stroke-width="0.15">15</text>
<rect x="639.7" y="823.58" width="9.8" height="81.72" stroke="#e1624f" stroke-width="1" fill="#eecbcb"/>
<circle cx="642.05" cy="825.08" r="2.2" stroke="#e1624f" stroke-width="0.85" fill="#fff"/>
<circle cx="644.6" cy="823.58" r="2.2" stroke="#e1624f" stroke-width="0.85" fill="#fff"/>
<circle cx="647.15" cy="823.08" r="2.2" stroke="#e1624f" stroke-width="0.85" fill="#fff"/>
<circle cx="668.1" cy="905.3" r="2.2" stroke="#7ccacd" stroke-width="0.85" fill="#fff"/>
<circle cx="671.3" cy="905.3" r="2.2" stroke="#7ccacd" stroke-width="0.85" fill="#fff"/>
<circle cx="674.5" cy="905.3" r="2.2" stroke="#7ccacd" stroke-width="0.85" fill="#fff"/>
<line x1="633.5" y1="905.3" x2="684.5" y2="905.3" stroke="#484848" stroke-width="1.2"/>
<line x1="644.6" y1="905.3" x2="644.6" y2="909.3" stroke="#484848" stroke-width="1.1"/>
<line x1="671.3" y1="905.3" x2="671.3" y2="909.3" stroke="#484848" stroke-width="1.1"/>
<text x="644.6" y="921.2" font-size="11.5" text-anchor="middle" fill="#231f20" stroke="#231f20" stroke-width="0.15">G1</text>
<text x="671.3" y="921.2" font-size="11.5" text-anchor="middle" fill="#231f20" stroke="#231f20" stroke-width="0.15">G2</text>
<path d="M644.3 814.6V805.1H672.6V897.7" stroke="#555555" stroke-width="1" fill="none"/>
<text x="658.5" y="807.85" font-size="12.5" text-anchor="middle" fill="#111">**</text>
<text x="583.2" y="859.3" font-size="11.4" text-anchor="middle" transform="rotate(-90 583.2 859.3)" fill="#231f20" stroke="#231f20" stroke-width="0.15">THJ-16T</text>
<text x="597" y="859.3" font-size="11.6" text-anchor="middle" transform="rotate(-90 597 859.3)" fill="#231f20" stroke="#231f20" stroke-width="0.15">(FABP5 KO)</text>
<text x="611.2" y="859.3" font-size="11.6" text-anchor="middle" transform="rotate(-90 611.2 859.3)" fill="#231f20" stroke="#231f20" stroke-width="0.15">Input (%)</text>
</svg></body></html>
